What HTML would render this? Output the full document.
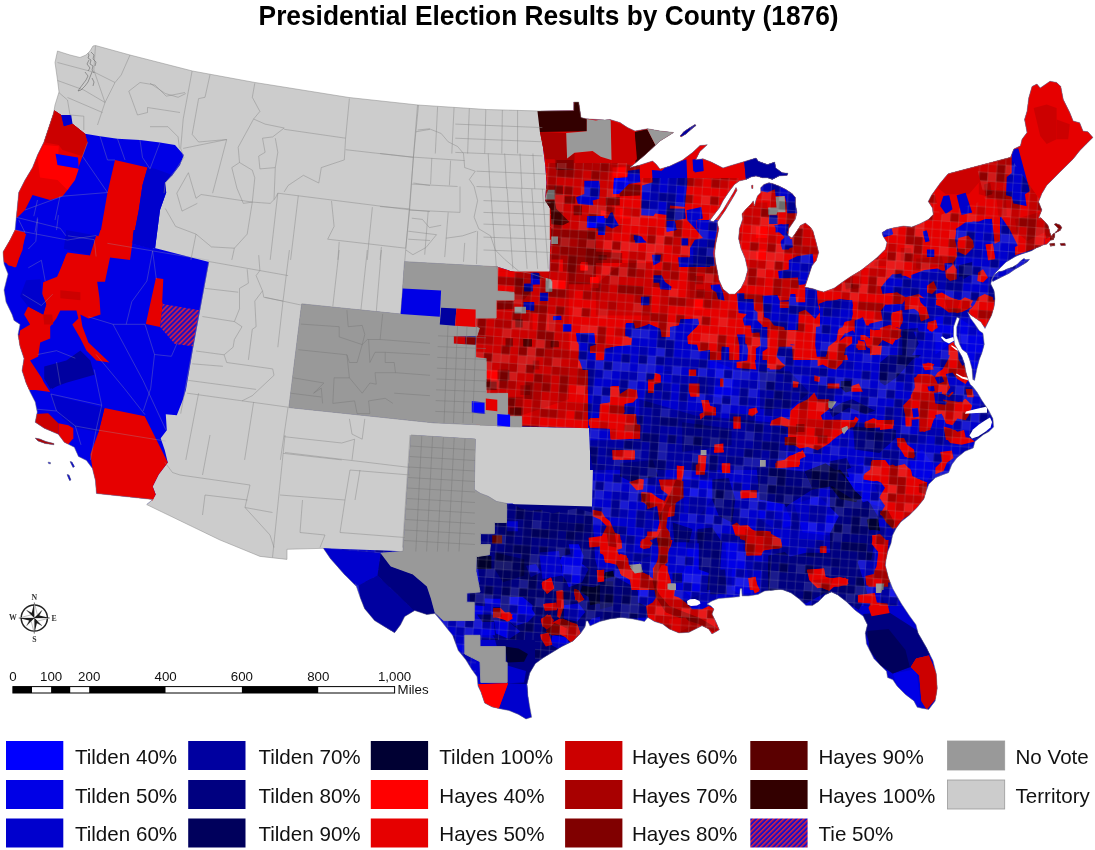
<!DOCTYPE html>
<html><head><meta charset="utf-8"><title>Presidential Election Results by County (1876)</title>
<style>
html,body{margin:0;padding:0;background:#fff;}
body{width:1095px;height:850px;overflow:hidden;position:relative;font-family:"Liberation Sans",sans-serif;}
svg{position:absolute;left:0;top:0;}
.t{font-family:"Liberation Sans",sans-serif;}
</style></head><body>
<svg width="1095" height="850" viewBox="0 0 1095 850">
<defs>
<pattern id="tie" width="3.55" height="3.55" patternUnits="userSpaceOnUse" patternTransform="rotate(-45)">
<rect width="3.55" height="3.55" fill="#1a10c8"/><rect width="3.55" height="1.5" fill="#e0203a"/></pattern>

<clipPath id="land">
<polygon points="57.5,51.0 62.0,52.5 70.0,55.0 80.0,57.5 86.0,55.0 90.0,51.0 93.0,46.0 95.5,45.5 130.0,55.0 192.5,71.0 255.0,82.5 274.0,85.5 349.0,97.5 418.0,105.0 486.5,109.5 539.0,111.0 573.7,110.5 573.7,102.0 578.7,102.0 581.0,117.5 586.0,118.7 605.0,120.0 610.0,119.5 620.0,122.5 627.5,127.5 635.0,131.0 647.5,128.7 660.0,131.0 673.7,132.5 660.0,141.0 645.0,155.0 630.0,167.5 640.0,165.0 652.5,161.0 656.0,164.0 660.0,169.0 670.0,166.0 682.5,160.0 692.5,152.5 700.0,145.5 707.3,144.8 699.9,151.4 695.8,159.7 703.0,158.8 711.4,162.0 723.0,167.9 731.0,165.4 742.7,162.0 756.0,158.0 758.4,161.3 767.4,164.6 774.8,162.0 775.7,167.9 782.3,172.8 788.0,173.2 787.2,175.3 779.0,176.0 772.4,179.4 767.4,177.8 762.5,177.8 756.0,176.0 751.0,177.0 746.0,179.4 739.4,181.0 734.5,184.4 729.5,191.0 723.0,200.8 719.7,207.4 714.7,214.0 709.8,220.6 713.5,221.8 718.5,216.0 723.5,209.0 728.0,201.5 733.5,192.5 736.0,187.5 737.2,190.0 734.0,195.8 729.5,203.3 725.0,210.8 720.5,217.3 717.2,222.3 718.8,228.8 717.2,237.0 715.5,245.3 714.7,253.6 715.5,261.8 717.2,270.0 719.0,280.0 723.0,289.0 729.0,294.0 735.0,294.0 741.0,288.0 745.0,280.0 747.7,270.0 745.2,258.5 741.0,248.6 738.6,238.7 739.4,228.8 742.7,219.0 741.9,214.0 746.0,209.0 751.0,204.0 753.4,200.8 754.5,206.0 756.0,200.0 757.5,195.9 760.8,192.6 760.8,187.7 764.0,184.4 769.0,182.7 772.4,183.5 779.0,186.0 785.6,189.3 792.0,193.4 795.4,197.5 795.4,204.0 797.0,212.4 795.4,219.0 792.0,224.0 788.8,228.8 788.0,235.4 792.0,237.9 796.3,232.0 800.4,225.5 805.3,223.0 810.3,227.0 813.0,231.0 816.2,242.6 818.7,252.5 816.2,260.7 812.0,265.7 808.8,275.5 805.5,285.4 804.7,287.0 813.0,288.7 817.9,290.4 823.7,292.0 834.4,287.9 842.6,282.0 850.8,276.4 860.7,270.6 869.0,264.0 877.2,257.4 885.4,249.2 887.0,242.6 883.0,236.0 882.0,232.7 887.0,229.4 893.7,227.8 903.6,226.0 911.8,227.0 920.0,223.7 928.3,219.5 933.2,214.6 932.4,208.0 928.3,201.4 931.5,195.2 939.7,183.7 948.0,173.8 1010.5,157.3 1013.8,149.0 1020.4,145.8 1022.0,139.2 1027.0,132.6 1024.5,119.4 1027.0,111.2 1028.7,98.0 1032.0,86.5 1036.9,84.0 1040.2,88.0 1050.0,81.2 1056.7,82.4 1060.8,86.5 1063.3,99.6 1069.9,112.8 1073.2,121.0 1079.7,122.7 1083.0,131.0 1088.0,131.8 1092.9,137.5 1086.3,144.0 1079.7,150.7 1073.2,159.0 1066.6,165.5 1060.0,172.0 1053.4,178.7 1046.8,185.3 1041.9,193.6 1038.6,201.8 1041.9,209.9 1038.6,218.0 1040.9,217.8 1044.7,221.6 1048.0,225.4 1049.4,230.1 1050.3,233.8 1051.3,236.2 1053.2,233.8 1056.9,232.2 1060.4,230.3 1061.8,227.6 1060.0,225.0 1056.0,223.4 1054.0,224.3 1056.4,226.4 1058.2,228.6 1057.4,230.4 1055.0,232.4 1054.6,236.8 1053.4,239.8 1050.3,240.3 1049.4,241.4 1046.6,244.2 1042.8,245.1 1040.0,246.5 1036.2,248.0 1031.5,250.8 1025.8,252.7 1020.2,254.5 1015.5,256.4 1010.8,259.3 1006.1,262.1 1002.3,265.8 998.5,269.6 994.8,273.4 991.9,279.0 991.0,282.8 990.8,284.0 994.0,290.6 995.0,298.8 994.0,307.0 991.6,315.3 987.5,323.5 985.0,328.5 981.0,322.0 976.0,318.6 971.0,315.3 967.7,312.0 970.7,318.5 974.4,323.4 979.4,330.8 983.0,333.3 984.3,344.4 981.9,353.0 979.4,359.2 976.9,369.0 974.6,380.4 972.8,379.5 972.0,369.0 969.5,359.2 967.0,353.0 962.0,349.3 959.6,344.4 956.7,335.7 956.7,327.0 959.6,318.5 957.0,317.2 953.5,327.0 953.5,335.7 954.7,344.4 958.4,350.6 962.0,356.7 964.6,364.0 965.8,371.5 968.3,380.2 970.7,385.0 972.3,386.0 977.2,392.3 982.0,400.5 988.7,410.4 992.9,418.6 993.7,426.9 988.7,431.8 983.2,434.8 975.0,441.4 973.3,448.0 965.0,451.3 956.8,457.9 951.9,464.5 948.6,472.7 943.7,474.4 935.4,477.7 928.8,484.3 926.4,490.8 923.9,499.0 917.3,507.3 909.0,515.5 900.8,522.0 895.9,528.7 892.6,535.3 891.0,543.5 887.7,551.8 886.0,560.0 885.4,565.4 888.6,578.0 892.8,588.7 901.3,603.5 909.8,616.2 916.0,624.7 918.2,633.2 926.7,648.0 933.0,660.7 936.2,673.4 937.3,688.2 935.2,701.0 928.8,709.4 922.5,708.4 917.2,707.3 914.0,701.0 905.5,694.6 897.0,686.0 892.8,679.8 887.5,677.6 886.5,671.3 880.0,665.0 873.8,658.6 869.5,650.0 866.4,643.8 865.3,633.2 867.4,624.7 863.2,616.2 854.7,609.9 846.2,601.4 837.8,595.0 831.4,591.9 825.0,595.0 818.7,601.4 812.4,605.6 806.0,605.6 799.6,599.3 791.2,593.0 782.7,589.8 780.0,589.4 764.7,591.0 758.0,594.4 748.3,596.0 742.0,596.0 741.8,588.5 740.2,588.5 739.6,596.5 738.4,596.8 728.5,597.7 718.6,598.5 712.0,601.0 707.0,604.0 711.0,606.0 714.0,609.0 712.0,614.0 716.0,622.0 719.4,629.8 712.0,633.9 708.7,629.0 702.0,625.7 695.5,629.0 689.0,632.3 679.0,633.0 669.2,629.0 662.6,624.0 654.4,621.5 647.8,617.4 644.5,621.5 633.0,619.0 621.4,617.4 609.9,619.0 600.0,621.5 590.0,626.0 587.8,621.0 586.2,621.0 585.0,627.0 580.6,633.4 573.0,641.0 561.8,646.6 552.4,652.3 543.0,658.0 535.4,663.6 529.8,673.0 527.0,684.3 527.9,695.6 529.8,706.9 531.7,717.2 526.0,719.0 518.5,714.4 509.0,710.6 499.7,708.7 492.0,706.9 484.6,703.0 480.8,691.8 478.0,686.0 477.0,676.7 471.4,669.0 465.8,659.8 458.2,650.4 452.6,635.3 448.9,630.7 440.8,620.6 434.8,613.6 426.8,614.6 414.7,610.6 404.7,616.6 400.6,624.7 394.6,632.7 384.6,626.7 374.5,620.6 364.5,608.6 360.5,598.5 356.4,586.5 344.4,574.4 330.3,558.4 323.3,548.3 287.0,549.3 287.0,559.4 260.0,556.4 220.0,540.0 146.7,504.6 152.7,499.5 96.4,493.5 95.4,480.5 92.4,468.4 86.4,460.4 78.4,456.4 74.3,447.3 64.3,442.3 58.3,434.3 44.2,428.2 35.2,422.2 37.2,412.0 35.2,402.0 30.1,392.0 26.0,382.7 22.0,370.6 24.0,358.6 20.0,346.5 18.0,334.5 20.0,324.4 14.0,320.4 12.0,314.4 6.0,302.0 4.0,290.0 8.0,274.0 4.0,264.0 3.0,252.0 10.0,240.0 15.0,230.0 16.0,220.0 17.5,205.0 18.7,192.5 25.0,180.0 32.5,167.5 37.5,155.0 43.7,142.5 48.7,127.5 53.7,112.5 55.0,105.0 59.0,92.0 57.5,80.0 55.0,62.5"/>
<polygon points="991.9,280.0 994.8,274.6 998.5,271.8 1003.2,270.8 1007.0,268.9 1012.7,267.0 1017.4,264.2 1021.1,260.4 1024.0,258.5 1025.8,259.7 1029.6,259.3 1027.7,261.6 1024.0,264.0 1019.3,266.8 1014.5,269.6 1008.9,273.4 1003.2,276.2 997.6,279.0 992.9,281.4"/>
<polygon points="680.0,136.0 684.0,131.5 690.0,127.5 695.0,124.5 696.0,125.5 691.0,129.5 686.0,134.0 681.0,137.0"/>
<polygon points="1049.5,243.8 1054.5,243.2 1055.0,245.6 1050.5,246.2"/>
<polygon points="1060.0,243.6 1065.0,243.2 1065.4,245.4 1061.0,245.6"/>
<polygon points="35.0,438.0 40.0,439.0 46.0,441.5 54.0,443.5 54.0,444.8 45.0,443.5 38.0,441.0"/>
<polygon points="70.0,461.5 72.0,462.0 74.5,466.5 73.0,467.5"/>
<polygon points="67.0,474.5 69.0,475.0 71.0,480.0 69.5,480.5"/>
<polygon points="48.0,462.0 50.5,462.5 50.5,464.0 48.5,463.6"/>
<polygon points="751.5,185.5 753.0,185.0 753.0,188.5 751.8,188.5"/>
</clipPath>

<pattern id="mos" width="120.4" height="120.4" patternUnits="userSpaceOnUse" patternTransform="rotate(4)"><rect x="0.0" y="0.0" width="8.6" height="8.6" fill="#000" opacity="0.15"/><rect x="0.0" y="8.6" width="8.6" height="8.6" fill="#000" opacity="0.30"/><rect x="0.0" y="25.8" width="8.6" height="8.6" fill="#000" opacity="0.30"/><rect x="0.0" y="43.0" width="8.6" height="8.6" fill="#fff" opacity="0.10"/><rect x="0.0" y="51.6" width="8.6" height="8.6" fill="#000" opacity="0.30"/><rect x="0.0" y="68.8" width="8.6" height="8.6" fill="#000" opacity="0.30"/><rect x="0.0" y="77.4" width="8.6" height="8.6" fill="#fff" opacity="0.10"/><rect x="0.0" y="86.0" width="8.6" height="8.6" fill="#000" opacity="0.30"/><rect x="0.0" y="94.6" width="8.6" height="8.6" fill="#000" opacity="0.30"/><rect x="0.0" y="103.2" width="8.6" height="8.6" fill="#fff" opacity="0.10"/><rect x="8.6" y="0.0" width="8.6" height="8.6" fill="#000" opacity="0.30"/><rect x="8.6" y="8.6" width="8.6" height="8.6" fill="#000" opacity="0.15"/><rect x="8.6" y="43.0" width="8.6" height="8.6" fill="#fff" opacity="0.10"/><rect x="8.6" y="60.2" width="8.6" height="8.6" fill="#000" opacity="0.30"/><rect x="8.6" y="77.4" width="8.6" height="8.6" fill="#000" opacity="0.15"/><rect x="8.6" y="86.0" width="8.6" height="8.6" fill="#000" opacity="0.30"/><rect x="8.6" y="94.6" width="8.6" height="8.6" fill="#000" opacity="0.30"/><rect x="8.6" y="103.2" width="8.6" height="8.6" fill="#000" opacity="0.15"/><rect x="17.2" y="0.0" width="8.6" height="8.6" fill="#000" opacity="0.15"/><rect x="17.2" y="25.8" width="8.6" height="8.6" fill="#fff" opacity="0.10"/><rect x="17.2" y="43.0" width="8.6" height="8.6" fill="#000" opacity="0.30"/><rect x="17.2" y="51.6" width="8.6" height="8.6" fill="#000" opacity="0.30"/><rect x="17.2" y="60.2" width="8.6" height="8.6" fill="#000" opacity="0.15"/><rect x="17.2" y="77.4" width="8.6" height="8.6" fill="#fff" opacity="0.10"/><rect x="17.2" y="86.0" width="8.6" height="8.6" fill="#000" opacity="0.15"/><rect x="17.2" y="103.2" width="8.6" height="8.6" fill="#fff" opacity="0.10"/><rect x="17.2" y="111.8" width="8.6" height="8.6" fill="#000" opacity="0.15"/><rect x="25.8" y="17.2" width="8.6" height="8.6" fill="#000" opacity="0.15"/><rect x="25.8" y="60.2" width="8.6" height="8.6" fill="#000" opacity="0.15"/><rect x="25.8" y="77.4" width="8.6" height="8.6" fill="#000" opacity="0.30"/><rect x="25.8" y="86.0" width="8.6" height="8.6" fill="#fff" opacity="0.10"/><rect x="25.8" y="103.2" width="8.6" height="8.6" fill="#000" opacity="0.30"/><rect x="25.8" y="111.8" width="8.6" height="8.6" fill="#fff" opacity="0.10"/><rect x="34.4" y="0.0" width="8.6" height="8.6" fill="#000" opacity="0.30"/><rect x="34.4" y="43.0" width="8.6" height="8.6" fill="#000" opacity="0.15"/><rect x="34.4" y="77.4" width="8.6" height="8.6" fill="#fff" opacity="0.10"/><rect x="34.4" y="103.2" width="8.6" height="8.6" fill="#fff" opacity="0.10"/><rect x="43.0" y="0.0" width="8.6" height="8.6" fill="#000" opacity="0.30"/><rect x="43.0" y="43.0" width="8.6" height="8.6" fill="#000" opacity="0.15"/><rect x="43.0" y="51.6" width="8.6" height="8.6" fill="#fff" opacity="0.10"/><rect x="43.0" y="68.8" width="8.6" height="8.6" fill="#000" opacity="0.30"/><rect x="43.0" y="77.4" width="8.6" height="8.6" fill="#fff" opacity="0.10"/><rect x="43.0" y="86.0" width="8.6" height="8.6" fill="#000" opacity="0.15"/><rect x="43.0" y="94.6" width="8.6" height="8.6" fill="#000" opacity="0.30"/><rect x="43.0" y="103.2" width="8.6" height="8.6" fill="#000" opacity="0.30"/><rect x="51.6" y="0.0" width="8.6" height="8.6" fill="#000" opacity="0.30"/><rect x="51.6" y="8.6" width="8.6" height="8.6" fill="#000" opacity="0.15"/><rect x="51.6" y="17.2" width="8.6" height="8.6" fill="#fff" opacity="0.10"/><rect x="51.6" y="34.4" width="8.6" height="8.6" fill="#000" opacity="0.30"/><rect x="51.6" y="43.0" width="8.6" height="8.6" fill="#fff" opacity="0.10"/><rect x="51.6" y="86.0" width="8.6" height="8.6" fill="#000" opacity="0.15"/><rect x="51.6" y="94.6" width="8.6" height="8.6" fill="#fff" opacity="0.10"/><rect x="51.6" y="103.2" width="8.6" height="8.6" fill="#000" opacity="0.15"/><rect x="60.2" y="8.6" width="8.6" height="8.6" fill="#000" opacity="0.30"/><rect x="60.2" y="17.2" width="8.6" height="8.6" fill="#000" opacity="0.15"/><rect x="60.2" y="25.8" width="8.6" height="8.6" fill="#000" opacity="0.15"/><rect x="60.2" y="34.4" width="8.6" height="8.6" fill="#000" opacity="0.15"/><rect x="60.2" y="43.0" width="8.6" height="8.6" fill="#fff" opacity="0.10"/><rect x="60.2" y="60.2" width="8.6" height="8.6" fill="#000" opacity="0.15"/><rect x="60.2" y="68.8" width="8.6" height="8.6" fill="#000" opacity="0.30"/><rect x="60.2" y="77.4" width="8.6" height="8.6" fill="#fff" opacity="0.10"/><rect x="60.2" y="86.0" width="8.6" height="8.6" fill="#fff" opacity="0.10"/><rect x="68.8" y="25.8" width="8.6" height="8.6" fill="#000" opacity="0.30"/><rect x="68.8" y="68.8" width="8.6" height="8.6" fill="#fff" opacity="0.10"/><rect x="68.8" y="77.4" width="8.6" height="8.6" fill="#fff" opacity="0.10"/><rect x="68.8" y="86.0" width="8.6" height="8.6" fill="#000" opacity="0.30"/><rect x="68.8" y="103.2" width="8.6" height="8.6" fill="#000" opacity="0.30"/><rect x="68.8" y="111.8" width="8.6" height="8.6" fill="#000" opacity="0.30"/><rect x="77.4" y="0.0" width="8.6" height="8.6" fill="#000" opacity="0.15"/><rect x="77.4" y="8.6" width="8.6" height="8.6" fill="#000" opacity="0.15"/><rect x="77.4" y="17.2" width="8.6" height="8.6" fill="#000" opacity="0.15"/><rect x="77.4" y="25.8" width="8.6" height="8.6" fill="#000" opacity="0.30"/><rect x="77.4" y="34.4" width="8.6" height="8.6" fill="#000" opacity="0.30"/><rect x="77.4" y="43.0" width="8.6" height="8.6" fill="#000" opacity="0.30"/><rect x="77.4" y="51.6" width="8.6" height="8.6" fill="#000" opacity="0.30"/><rect x="77.4" y="60.2" width="8.6" height="8.6" fill="#fff" opacity="0.10"/><rect x="77.4" y="68.8" width="8.6" height="8.6" fill="#000" opacity="0.30"/><rect x="77.4" y="94.6" width="8.6" height="8.6" fill="#000" opacity="0.30"/><rect x="77.4" y="103.2" width="8.6" height="8.6" fill="#000" opacity="0.15"/><rect x="77.4" y="111.8" width="8.6" height="8.6" fill="#000" opacity="0.15"/><rect x="86.0" y="0.0" width="8.6" height="8.6" fill="#fff" opacity="0.10"/><rect x="86.0" y="8.6" width="8.6" height="8.6" fill="#000" opacity="0.30"/><rect x="86.0" y="34.4" width="8.6" height="8.6" fill="#fff" opacity="0.10"/><rect x="86.0" y="43.0" width="8.6" height="8.6" fill="#fff" opacity="0.10"/><rect x="86.0" y="51.6" width="8.6" height="8.6" fill="#000" opacity="0.30"/><rect x="86.0" y="60.2" width="8.6" height="8.6" fill="#000" opacity="0.30"/><rect x="86.0" y="68.8" width="8.6" height="8.6" fill="#000" opacity="0.15"/><rect x="86.0" y="77.4" width="8.6" height="8.6" fill="#000" opacity="0.15"/><rect x="86.0" y="94.6" width="8.6" height="8.6" fill="#000" opacity="0.15"/><rect x="86.0" y="103.2" width="8.6" height="8.6" fill="#000" opacity="0.30"/><rect x="94.6" y="8.6" width="8.6" height="8.6" fill="#000" opacity="0.30"/><rect x="94.6" y="25.8" width="8.6" height="8.6" fill="#000" opacity="0.30"/><rect x="94.6" y="68.8" width="8.6" height="8.6" fill="#000" opacity="0.15"/><rect x="94.6" y="77.4" width="8.6" height="8.6" fill="#fff" opacity="0.10"/><rect x="94.6" y="86.0" width="8.6" height="8.6" fill="#000" opacity="0.15"/><rect x="103.2" y="0.0" width="8.6" height="8.6" fill="#000" opacity="0.15"/><rect x="103.2" y="8.6" width="8.6" height="8.6" fill="#000" opacity="0.15"/><rect x="103.2" y="68.8" width="8.6" height="8.6" fill="#000" opacity="0.15"/><rect x="103.2" y="86.0" width="8.6" height="8.6" fill="#000" opacity="0.15"/><rect x="103.2" y="94.6" width="8.6" height="8.6" fill="#000" opacity="0.30"/><rect x="103.2" y="103.2" width="8.6" height="8.6" fill="#000" opacity="0.30"/><rect x="103.2" y="111.8" width="8.6" height="8.6" fill="#000" opacity="0.15"/><rect x="111.8" y="0.0" width="8.6" height="8.6" fill="#000" opacity="0.15"/><rect x="111.8" y="25.8" width="8.6" height="8.6" fill="#fff" opacity="0.10"/><rect x="111.8" y="60.2" width="8.6" height="8.6" fill="#fff" opacity="0.10"/><rect x="111.8" y="68.8" width="8.6" height="8.6" fill="#000" opacity="0.15"/><rect x="111.8" y="77.4" width="8.6" height="8.6" fill="#000" opacity="0.15"/><rect x="111.8" y="86.0" width="8.6" height="8.6" fill="#000" opacity="0.15"/><rect x="111.8" y="94.6" width="8.6" height="8.6" fill="#000" opacity="0.15"/><path d="M0.0 0V120.4M0 0.0H120.4M8.6 0V120.4M0 8.6H120.4M17.2 0V120.4M0 17.2H120.4M25.8 0V120.4M0 25.8H120.4M34.4 0V120.4M0 34.4H120.4M43.0 0V120.4M0 43.0H120.4M51.6 0V120.4M0 51.6H120.4M60.2 0V120.4M0 60.2H120.4M68.8 0V120.4M0 68.8H120.4M77.4 0V120.4M0 77.4H120.4M86.0 0V120.4M0 86.0H120.4M94.6 0V120.4M0 94.6H120.4M103.2 0V120.4M0 103.2H120.4M111.8 0V120.4M0 111.8H120.4" stroke="#aaa" stroke-opacity="0.33" stroke-width="0.6" fill="none"/></pattern>
</defs>
<rect width="1095" height="850" fill="#fff"/>
<g clip-path="url(#land)">
<rect x="0" y="30" width="1095" height="700" fill="#cccccc"/>
<polygon points="539.0,111.2 540.2,130.0 542.7,145.0 545.2,165.0 546.5,182.5 545.2,200.0 551.2,210.0 551.2,235.0 550.0,250.0 549.8,270.7 547.2,281.0 538.3,272.7 525.5,272.0 517.8,273.2 497.3,266.8 404.5,261.7 402.7,288.6 400.7,314.0 301.7,304.0 289.0,407.5 433.4,422.8 521.6,426.7 588.9,428.0 589.9,450.2 592.9,470.3 591.9,512.5 576.8,508.5 564.8,510.5 552.7,513.5 540.6,509.5 532.6,510.5 520.6,508.5 512.5,503.4 506.5,503.4 496.4,501.4 488.4,496.4 480.4,493.4 474.3,489.4 475.3,439.1 411.0,435.1 407.7,480.0 403.0,551.3 323.3,548.3 300.0,600.0 420.0,730.0 1095.0,730.0 1095.0,40.0 539.0,40.0" fill="#0000cd"/>
<polygon points="53.8,110.0 61.2,115.0 72.5,123.8 85.0,133.8 100.0,136.2 117.5,138.8 140.0,140.0 160.0,142.5 175.0,145.0 183.8,155.0 180.0,165.0 172.5,175.0 165.0,182.5 166.2,192.5 160.0,210.0 155.0,248.8 15.0,218.8 0.0,218.8 0.0,110.0" fill="#0000e6"/>
<polygon points="53.8,110.0 61.2,115.0 63.8,126.2 72.5,123.8 85.0,133.8 87.5,142.5 82.5,156.2 77.5,170.0 72.5,180.0 67.5,190.0 62.5,196.2 50.0,200.0 32.5,195.0 25.0,210.0 16.2,218.8 0.0,220.0 0.0,110.0" fill="#e60000"/>
<polygon points="53.8,110.0 61.2,115.0 63.8,126.2 72.5,123.8 85.0,133.8 87.5,142.5 82.5,156.2 62.5,150.0 58.8,145.0 45.0,142.5 43.8,141.2" fill="#cc0000"/>
<polygon points="43.8,145.0 58.8,146.2 57.5,165.0 78.8,168.8 75.0,180.0 67.5,190.0 57.5,180.0 40.0,177.5 37.5,157.5" fill="#ff0000"/>
<polygon points="55.5,153.8 78.0,157.5 78.8,168.8 57.5,165.0" fill="#0000ff"/>
<polygon points="61.2,115.0 71.2,115.0 72.5,123.8 63.8,126.2" fill="#0000cd"/>
<polygon points="115.0,160.0 147.5,167.5 142.5,185.0 138.8,210.0 132.5,242.5 100.0,235.5 107.5,192.5" fill="#e60000"/>
<polygon points="147.5,167.5 155.0,168.8 172.5,175.0 165.0,182.5 166.2,192.5 160.0,210.0 155.0,248.8 132.5,242.5 138.8,210.0 142.5,185.0" fill="#0000cd"/>
<polygon points="17.0,217.5 155.0,248.7 154.7,248.0 209.0,262.0 193.0,348.5 185.9,390.0 182.8,400.0 176.8,415.2 165.8,414.2 166.8,430.2 160.7,438.3 164.8,450.3 167.8,462.4 158.7,474.4 152.7,486.5 155.7,494.5 152.7,499.5 146.7,504.6 90.0,500.0 0.0,440.0 0.0,217.0" fill="#0000e6"/>
<polygon points="16.2,230.0 25.0,232.5 22.5,250.0 15.0,267.5 0.0,260.0 0.0,230.0" fill="#e60000"/>
<polygon points="66.2,230.0 96.2,235.5 91.2,255.5 63.8,248.8" fill="#0000cd"/>
<polygon points="96.2,235.5 110.0,240.0 132.5,242.5 130.0,260.0 110.0,257.5 105.0,281.8 55.0,281.8 67.5,252.5 90.0,255.5" fill="#e60000"/>
<polygon points="132.6,230.0 156.7,230.0 152.7,249.1 132.6,244.1" fill="#0000cd"/>
<polygon points="14.1,230.0 26.1,234.0 22.1,248.1 16.1,267.2 8.0,265.2 0.0,252.1 0.0,230.0" fill="#e60000"/>
<polygon points="100.5,230.0 133.6,230.0 131.6,243.1 108.5,241.1 104.5,250.1 96.4,276.2 99.5,298.3 100.5,314.4 88.4,318.4 80.4,314.4 82.4,326.4 88.4,342.5 109.5,362.6 96.4,360.6 86.4,350.6 80.4,338.5 72.3,324.4 78.4,318.4 76.4,310.4 60.3,310.4 56.3,318.4 50.2,326.4 50.2,338.5 40.2,342.5 38.2,356.6 26.1,358.6 18.1,342.5 20.1,330.5 30.1,324.4 24.1,314.4 28.1,306.4 43.2,314.4 46.2,304.3 42.2,294.3 43.2,282.2 58.3,276.2 66.3,254.1 90.4,256.1 94.4,248.1" fill="#e60000"/>
<polygon points="60.3,290.3 80.4,292.3 80.4,300.3 60.3,298.3" fill="#cc0000"/>
<polygon points="43.2,314.4 52.2,314.4 53.2,324.4 44.2,324.4" fill="#cc0000"/>
<polygon points="18.1,334.5 26.1,342.5 38.2,356.6 30.1,360.6 42.2,378.7 46.2,389.9 20.1,389.9 12.1,358.6 12.1,334.5" fill="#e60000"/>
<polygon points="44.2,366.6 66.3,360.6 80.4,350.6 90.4,360.6 94.4,374.7 80.4,378.7 66.3,382.7 50.2,388.7 44.2,378.7" fill="#0000a0"/>
<polygon points="26.1,280.2 40.2,279.2 42.2,294.3 46.2,304.3 43.2,314.4 28.1,306.4 20.1,296.3" fill="#0000cd"/>
<polygon points="155.9,277.9 163.3,279.0 162.2,301.7 162.8,304.0 160.1,327.1 145.8,324.0" fill="#e60000"/>
<polygon points="162.8,303.9 199.3,310.2 192.9,346.2 174.9,344.1 160.1,327.1" fill="url(#tie)"/>
<polygon points="104.5,408.1 144.7,416.2 167.8,462.4 158.7,474.4 152.7,486.5 155.7,494.5 152.7,500.6 96.4,494.5 94.4,480.5 92.4,468.4 90.4,454.3 98.5,432.2" fill="#e60000"/>
<polygon points="58.3,423.2 68.3,425.2 73.3,428.2 73.3,438.3 68.3,444.3 60.3,444.3 58.3,434.2" fill="#e60000"/>
<polygon points="32.1,414.2 48.2,413.2 58.3,423.2 58.3,434.2 44.2,430.2 32.1,424.2" fill="#cc0000"/>
<polygon points="51.2,395.1 104.5,408.1 98.5,432.2 73.3,427.2 62.3,418.2 54.2,406.1" fill="#0000cd"/>
<polygon points="20.1,380.0 42.2,380.0 50.2,392.1 28.1,389.0 22.1,386.0" fill="#e60000"/>
<polygon points="46.2,380.0 66.3,380.0 52.2,389.0" fill="#0000a0"/>
<polygon points="30.0,435.0 56.0,435.0 56.0,447.0 30.0,447.0" fill="#a80000"/>
<polygon points="66.0,458.0 76.0,458.0 76.0,482.0 66.0,482.0" fill="#0000cd"/>
<polygon points="650.1,427.2 662.5,427.2 662.5,438.7 682.2,438.7 682.2,451.9 667.4,452.7 659.2,445.3 650.1,437.0" fill="#00005c"/>
<polygon points="634.5,354.7 646.0,354.7 646.0,362.9 634.5,362.9" fill="#000080"/>
<polygon points="639.4,399.2 695.4,415.6 770.0,422.2 770.0,470.0 590.0,470.0 590.0,440.3 639.4,440.3" fill="#0000a0"/>
<polygon points="682.2,422.2 731.6,428.8 731.6,445.3 682.2,451.9" fill="#000080"/>
<polygon points="662.5,343.2 687.2,339.9 688.8,367.9 664.1,371.2" fill="#0000e6"/>
<polygon points="705.3,358.0 734.9,369.5 731.6,399.2 708.6,395.9" fill="#0000e6"/>
<polygon points="840.7,381.1 850.6,381.1 851.4,390.9 845.6,392.6 840.7,387.6" fill="#00005c"/>
<polygon points="903.3,339.9 914.8,338.2 923.0,351.4 918.1,358.0 908.2,353.1" fill="#000080"/>
<polygon points="829.2,410.7 842.3,402.5 852.2,399.2 875.3,410.7 865.4,414.0 848.9,407.4 832.5,417.3" fill="#000080"/>
<polygon points="760.0,422.2 769.9,425.5 786.3,428.8 786.3,458.5 760.0,458.5" fill="#0000a0"/>
<polygon points="760.0,371.2 789.6,371.2 809.4,392.6 789.6,409.0 760.0,409.0" fill="#0000a0"/>
<polygon points="901.4,329.6 917.9,328.0 922.8,354.3 912.9,359.3 896.5,377.4 884.9,385.6 880.0,382.3 880.0,362.6 889.9,354.3 899.8,342.8" fill="#000080"/>
<polygon points="906.3,332.9 916.2,332.9 917.9,352.7 911.3,354.3" fill="#00005c"/>
<polygon points="926.1,319.8 955.8,313.2 952.5,341.2 936.0,354.3 922.8,349.4" fill="#0000e6"/>
<polygon points="959.0,318.1 982.1,332.9 983.8,347.8 975.5,370.8 962.3,349.4" fill="#0000e6"/>
<polygon points="942.6,398.8 949.2,397.2 952.5,402.1 945.9,405.4" fill="#0000e6"/>
<polygon points="830.0,461.2 846.5,457.9 859.6,485.9 879.4,518.8 871.2,560.0 830.0,560.0" fill="#000080"/>
<polygon points="830.0,472.7 839.9,469.4 859.6,492.5 856.3,502.3 839.9,499.0 830.0,485.9" fill="#000033"/>
<polygon points="867.9,518.8 877.8,518.8 879.4,528.7 869.5,530.3" fill="#000033"/>
<polygon points="834.9,545.2 848.1,545.2 848.1,556.7 834.9,556.7" fill="#000033"/>
<polygon points="846.5,469.4 862.9,462.8 872.8,479.3 879.4,497.4 862.9,502.3 851.4,482.6" fill="#0000e6"/>
<polygon points="909.0,457.9 922.2,449.6 935.4,467.8 927.2,480.9 912.3,474.3" fill="#0000e6"/>
<polygon points="853.1,426.6 895.9,429.9 895.9,438.1 879.4,452.9 854.7,449.6" fill="#000080"/>
<polygon points="804.2,471.4 825.6,463.2 842.1,474.7 861.9,497.8 855.3,501.1 832.2,486.2 812.5,489.5" fill="#00005c"/>
<polygon points="835.5,543.9 848.7,543.9 850.3,555.4 837.2,557.0" fill="#000033"/>
<polygon points="866.8,519.2 878.3,522.5 880.0,530.7 868.5,529.0" fill="#000033"/>
<polygon points="768.0,563.6 779.5,562.0 781.2,575.2 787.8,580.1 786.1,588.3 772.9,586.7 768.0,575.2" fill="#00005c"/>
<polygon points="756.5,466.5 804.2,471.4 812.5,489.5 789.4,504.3 772.9,519.2 759.8,499.4" fill="#000080"/>
<polygon points="832.2,519.2 865.2,515.9 871.7,542.2 855.3,565.3 832.2,565.3" fill="#000080"/>
<polygon points="794.3,504.3 819.0,496.1 838.8,515.9 828.9,535.6 802.6,532.3" fill="#0000e6"/>
<polygon points="845.4,476.3 865.2,481.3 876.7,494.5 883.3,507.6 871.7,504.3 855.3,491.2" fill="#0000e6"/>
<polygon points="892.8,673.4 916.1,669.2 920.4,700.9 918.2,707.3 905.5,694.6 897.1,686.1" fill="#0000e6"/>
<polygon points="770.0,561.2 806.0,552.7 854.7,552.7 867.4,592.9 858.9,609.9 837.8,597.2 825.1,592.9 806.0,603.5 770.0,590.8" fill="#000080"/>
<polygon points="863.2,614.1 888.6,612.0 918.2,631.1 930.9,654.4 916.1,658.6 910.8,667.1 892.8,673.4 880.1,664.9 865.3,633.2" fill="#000080"/>
<polygon points="867.4,631.1 888.6,628.9 905.5,650.1 909.8,667.1 892.8,673.4 880.1,664.9 869.5,650.1" fill="#00005c"/>
<polygon points="880.1,588.7 892.8,588.7 897.1,603.5 884.4,603.5" fill="#0000e6"/>
<polygon points="697.4,529.0 712.2,527.4 722.1,542.2 718.8,590.0 697.4,590.0" fill="#000080"/>
<polygon points="712.2,479.6 728.7,478.0 735.3,499.4 732.0,522.5 718.8,515.9 712.2,499.4" fill="#000080"/>
<polygon points="768.2,555.4 784.7,552.1 800.0,565.3 800.0,590.0 768.2,590.0" fill="#000080"/>
<polygon points="620.0,463.2 652.9,459.9 657.9,476.3 629.9,481.3 620.0,476.3" fill="#000080"/>
<polygon points="672.7,522.5 692.5,529.0 689.2,542.2 674.3,542.2" fill="#000080"/>
<polygon points="682.6,476.3 712.2,478.0 712.2,499.4 699.0,515.9 684.2,512.6" fill="#0000e6"/>
<polygon points="758.3,499.4 784.7,504.3 792.9,525.8 774.8,529.0 760.0,519.2" fill="#0000e6"/>
<polygon points="725.4,542.2 741.9,538.9 745.2,565.3 727.0,568.6" fill="#0000e6"/>
<polygon points="476.6,503.2 591.9,506.5 595.2,559.2 601.7,583.9 614.9,588.8 636.3,588.8 636.3,608.6 591.9,618.5 535.9,687.6 511.2,704.1 494.7,638.2 470.0,605.3 470.0,582.2 479.9,582.2 476.6,555.9 491.4,544.3 479.9,544.3 479.9,532.8 494.7,522.9 506.2,519.6 507.1,503.2" fill="#000080"/>
<polygon points="507.1,521.3 517.8,521.3 517.8,531.2 507.1,531.2" fill="#0000cd"/>
<polygon points="568.8,544.3 578.7,544.3 583.6,555.9 582.0,564.1 588.6,569.0 582.0,582.2 568.8,587.2 565.5,578.9 567.2,569.0 558.9,562.5 562.2,555.9 570.5,554.2" fill="#0000e6"/>
<polygon points="526.0,565.8 535.9,564.1 540.8,572.3 530.9,577.3" fill="#0000cd"/>
<polygon points="509.5,597.0 522.7,597.0 532.6,605.3 530.9,615.2 519.4,620.1 509.5,611.9" fill="#0000e6"/>
<polygon points="484.8,598.7 500.5,598.7 500.5,606.9 484.8,606.9" fill="#0000e6"/>
<polygon points="563.9,605.3 578.7,603.6 585.3,611.9 577.0,621.7 563.9,618.5" fill="#0000e6"/>
<polygon points="641.3,559.2 650.0,555.9 650.0,572.3 642.9,569.0" fill="#0000e6"/>
<polygon points="605.0,572.3 613.3,570.7 614.9,582.2 613.3,603.6 605.0,605.3 598.5,603.6 590.2,605.3 588.6,597.0 580.3,592.1 582.0,585.5 593.5,587.2 601.7,583.9" fill="#000033"/>
<polygon points="476.6,555.9 491.4,555.9 491.4,569.0 476.6,569.0" fill="#000033"/>
<polygon points="494.7,552.6 524.3,559.2 524.3,575.6 502.9,582.2 494.7,569.0" fill="#00005c"/>
<polygon points="539.2,552.6 558.9,550.9 562.2,575.6 542.5,578.9" fill="#0000cd"/>
<polygon points="614.9,499.9 650.0,509.8 650.0,537.8 618.2,531.2" fill="#0000cd"/>
<polygon points="603.3,579.5 614.8,576.2 635.4,587.8 649.4,609.2 647.8,617.4 609.9,619.0 600.0,621.5 600.0,589.4" fill="#000080"/>
<polygon points="600.0,581.2 613.2,581.2 613.2,605.9 600.0,609.2" fill="#00005c"/>
<polygon points="641.2,559.8 654.3,561.4 652.7,572.9 642.8,572.9" fill="#0000e6"/>
<polygon points="637.9,587.8 654.3,587.8 654.3,602.6 646.1,605.9 637.9,602.6" fill="#0000e6"/>
<polygon points="672.5,572.9 682.3,572.9 682.3,582.8 672.5,582.8" fill="#000080"/>
<polygon points="698.8,543.3 708.7,543.3 708.7,558.1 698.8,558.1" fill="#000080"/>
<polygon points="708.7,569.6 725.2,569.6 726.8,594.3 710.3,594.3" fill="#000080"/>
<polygon points="687.3,543.3 698.8,543.3 698.8,569.6 708.7,572.9 707.0,592.7 692.2,597.6 682.3,589.4 682.3,572.9 687.3,564.7" fill="#0000e6"/>
<polygon points="735.0,549.9 744.9,556.5 748.2,577.9 751.5,592.7 740.0,594.3 731.7,589.4 731.7,572.9" fill="#0000e6"/>
<polygon points="768.0,561.4 780.0,561.4 780.0,587.8 771.3,586.1" fill="#000080"/>
<polygon points="484.6,598.6 499.7,599.5 500.6,607.1 485.5,607.1" fill="#0000e6"/>
<polygon points="474.2,605.2 493.1,607.1 494.0,614.6 475.2,614.6" fill="#0000e6"/>
<polygon points="511.0,597.7 527.9,603.3 535.4,614.6 527.9,622.1 514.7,625.9 505.3,618.4 512.8,610.8" fill="#0000e6"/>
<polygon points="480.8,622.1 494.0,622.1 495.0,635.3 480.8,635.3" fill="#0000e6"/>
<polygon points="452.6,634.4 464.8,635.3 464.8,654.1 458.2,648.5" fill="#0000e6"/>
<polygon points="494.0,620.3 509.1,622.1 520.4,631.5 509.1,639.1 495.9,633.4" fill="#0000e6"/>
<polygon points="552.4,635.3 565.6,637.2 569.3,642.8 558.0,648.5 550.5,644.7" fill="#0000e6"/>
<polygon points="507.2,665.4 526.0,671.1 524.1,682.4 508.1,683.3" fill="#0000cd"/>
<polygon points="505.3,646.6 518.5,648.5 527.9,654.1 524.1,661.7 507.2,662.6" fill="#000033"/>
<polygon points="561.8,560.0 576.9,560.0 580.6,578.8 569.3,584.5 561.8,575.1" fill="#0000e6"/>
<polygon points="498.7,708.7 508.1,683.3 527.9,684.3 529.8,717.2 526.0,719.1 518.5,714.4 509.1,710.6" fill="#0000cd"/>
<polygon points="539.0,111.2 540.2,130.0 542.7,145.0 545.2,165.0 546.5,182.5 545.2,200.0 551.2,210.0 551.2,235.0 550.0,250.0 549.8,270.7 547.2,281.0 538.3,272.7 525.5,272.0 517.8,273.2 497.3,266.8 476.0,266.0 476.0,424.8 588.0,428.2 588.0,368.0 578.8,359.6 578.8,344.8 576.3,333.2 594.0,333.0 595.0,344.0 604.0,345.0 604.0,351.0 612.0,347.0 628.0,345.0 625.6,337.0 626.0,323.0 634.0,323.0 634.6,329.0 645.0,327.0 648.6,324.0 660.0,329.0 662.0,337.0 670.0,337.0 670.0,327.0 679.0,325.6 680.7,319.0 698.0,319.0 699.0,324.0 688.0,335.0 688.0,342.0 698.0,344.0 698.0,350.0 710.0,345.0 712.0,360.0 870.0,360.0 872.0,330.0 884.0,320.0 890.0,322.0 905.0,300.0 915.0,296.0 930.0,300.0 948.0,296.0 952.0,285.0 960.0,262.0 985.0,262.0 990.0,250.0 985.0,230.0 1000.0,215.0 1010.0,230.0 1020.0,250.0 1060.0,250.0 1095.0,250.0 1095.0,60.0 539.0,60.0" fill="#e60000"/>
<polygon points="709.8,335.3 721.3,335.3 721.3,360.0 709.8,360.0" fill="#e60000"/>
<polygon points="729.5,335.3 737.8,335.3 739.4,360.0 729.5,360.0" fill="#e60000"/>
<polygon points="749.3,333.6 755.9,333.6 755.9,360.0 749.3,360.0" fill="#e60000"/>
<polygon points="762.5,333.6 775.6,333.6 775.6,360.0 762.5,360.0" fill="#e60000"/>
<polygon points="792.9,333.6 816.8,333.6 816.8,360.0 792.9,360.0" fill="#e60000"/>
<polygon points="825.9,333.6 848.1,335.3 848.1,360.0 825.9,360.0" fill="#e60000"/>
<polygon points="834.9,328.7 854.7,320.5 854.7,335.3 844.8,345.2 833.3,341.9" fill="#e60000"/>
<polygon points="820.0,290.8 885.9,280.9 882.6,294.0 885.9,303.9 880.9,310.5 882.6,320.4 869.4,323.7 867.8,328.6 894.1,328.6 897.4,336.9 892.5,345.1 882.6,340.2 877.6,346.7 876.0,355.0 869.4,355.0 864.5,340.2 857.9,336.9 852.9,330.3 844.7,333.6 839.8,340.2 841.4,355.0 826.6,355.0 828.2,346.7 836.5,340.2 838.1,330.3 844.7,322.0 851.3,320.4 852.9,313.8 851.3,300.6 839.8,299.0 820.0,303.9" fill="#e60000"/>
<polygon points="537.4,110.7 573.6,110.7 574.5,100.0 579.4,100.0 581.9,116.5 586.8,118.9 586.8,131.3 539.9,132.1" fill="#330000"/>
<polygon points="634.6,132.1 647.3,129.3 656.8,147.8 635.4,167.5 635.4,149.4" fill="#330000"/>
<polygon points="610.7,120.6 617.3,123.1 625.5,126.3 634.6,132.1 637.0,159.3 628.8,165.9 612.3,167.5 611.5,160.1" fill="#cc0000"/>
<polygon points="539.9,132.1 566.2,132.9 567.1,158.5 574.5,152.7 592.6,151.1 600.8,156.8 611.5,160.1 612.3,240.0 549.8,240.0 549.8,198.8 545.6,159.3" fill="#cc0000"/>
<polygon points="539.9,132.1 566.2,132.9 567.1,158.5 574.5,152.7 574.5,169.2 555.5,169.2 554.7,159.3 545.6,159.3" fill="#a80000"/>
<polygon points="551.4,230.0 595.9,230.0 595.9,251.4 622.2,253.1 622.2,262.9 595.9,262.9 595.9,284.3 562.9,284.3 562.9,259.6 551.4,259.6" fill="#a80000"/>
<polygon points="622.2,262.9 651.9,262.9 651.9,315.6 595.9,315.6 595.9,284.3" fill="#cc0000"/>
<polygon points="497.2,271.4 568.8,271.4 568.8,390.0 486.5,390.0 486.5,357.0 476.6,357.0 476.6,319.2 497.2,317.5" fill="#cc0000"/>
<polygon points="514.5,273.1 530.9,273.1 530.9,291.2 524.3,299.4 514.5,299.4" fill="#a80000"/>
<polygon points="497.2,271.4 514.5,271.4 514.5,291.2 497.2,291.2" fill="#e60000"/>
<polygon points="532.6,312.6 549.0,312.6 549.0,335.6 532.6,335.6" fill="#e60000"/>
<polygon points="486.6,330.0 562.3,330.0 568.9,362.9 568.9,399.2 521.2,415.6 508.0,415.6 508.0,393.4 497.3,393.4 486.6,399.2" fill="#cc0000"/>
<polygon points="690.0,267.8 716.3,267.8 716.3,299.0 690.0,299.0" fill="#cc0000"/>
<polygon points="795.4,229.9 811.9,224.9 818.5,252.9 812.7,253.8 797.0,256.2 792.9,247.2 792.1,238.9" fill="#cc0000"/>
<polygon points="937.6,187.8 950.8,172.1 1010.1,156.5 1010.1,172.9 978.8,182.8 968.9,194.3 955.8,194.3 945.9,194.3" fill="#cc0000"/>
<polygon points="978.8,182.8 1005.2,172.9 1005.2,186.1 995.3,189.4 992.0,194.3 985.4,196.0 978.8,194.3" fill="#cc0000"/>
<polygon points="1015.0,219.0 1044.7,210.8 1051.3,232.2 1028.2,242.1 1016.7,232.2" fill="#cc0000"/>
<polygon points="1033.6,107.9 1046.7,104.6 1056.6,107.9 1056.6,139.2 1046.7,144.1 1040.2,135.9" fill="#cc0000"/>
<polygon points="1050.0,222.0 1066.0,222.0 1066.0,247.0 1050.0,247.0" fill="#800000"/>
<polygon points="741.1,209.0 752.6,202.5 767.4,202.5 767.4,215.6 742.7,217.3" fill="#cc0000"/>
<polygon points="795.4,227.2 805.3,223.0 813.5,235.4 818.5,255.2 811.9,245.3 795.4,243.6" fill="#cc0000"/>
<polygon points="584.3,180.7 599.2,180.7 600.0,187.3 599.2,198.8 592.6,200.5 593.4,205.4 577.8,203.8 576.1,197.2 584.3,193.9" fill="#0000cd"/>
<polygon points="614.0,178.2 627.2,177.4 628.0,170.8 639.5,169.2 640.3,182.3 628.8,184.0 618.9,193.9 613.2,193.9" fill="#0000cd"/>
<polygon points="587.6,216.1 604.1,216.1 612.3,212.0 614.8,218.6 618.9,225.2 612.3,228.5 605.8,225.2 604.9,235.0 598.3,235.0 598.3,228.5 586.8,227.6" fill="#0000cd"/>
<polygon points="633.8,235.0 642.0,236.7 643.6,240.0 633.8,240.0" fill="#0000cd"/>
<polygon points="651.9,170.0 661.7,170.8 666.7,165.9 686.5,159.3 687.3,182.3 684.8,207.0 670.0,205.4 669.2,215.3 655.2,213.6 653.5,216.1 641.2,215.3 642.0,185.6 652.7,182.3" fill="#0000cd"/>
<polygon points="666.7,208.7 684.8,208.7 685.6,218.6 675.7,220.2 666.7,220.2" fill="#0000cd"/>
<polygon points="686.5,210.3 701.3,207.0 702.9,218.6 696.3,220.2 696.3,228.5 704.6,230.1 710.0,218.6 710.0,240.0 704.6,240.0 696.3,230.1 687.3,220.2" fill="#0000cd"/>
<polygon points="666.7,221.0 674.9,221.0 676.6,230.1 666.7,231.7" fill="#0000cd"/>
<polygon points="693.0,162.6 702.9,160.1 703.7,170.8 694.7,172.5" fill="#0000cd"/>
<polygon points="598.3,230.0 604.9,230.0 604.9,234.9 598.3,234.9" fill="#0000cd"/>
<polygon points="633.8,235.8 639.5,235.8 646.9,242.4 635.4,243.2" fill="#0000cd"/>
<polygon points="681.5,238.2 688.1,238.2 688.1,245.6 681.5,245.6" fill="#0000cd"/>
<polygon points="651.9,254.7 660.9,254.7 660.1,262.1 653.5,265.4" fill="#0000cd"/>
<polygon points="678.2,257.2 710.0,257.2 710.0,267.1 679.0,267.1" fill="#0000cd"/>
<polygon points="694.7,239.9 710.0,239.9 710.0,257.2 694.7,257.2" fill="#0000cd"/>
<polygon points="653.5,275.3 661.7,275.3 665.0,281.9 671.6,286.8 670.8,290.1 660.1,289.3 659.3,282.7 653.5,282.7" fill="#0000cd"/>
<polygon points="641.2,296.7 649.4,296.7 649.4,304.9 641.2,304.9" fill="#0000cd"/>
<polygon points="530.8,272.8 537.4,272.8 539.1,281.1 534.9,284.3 530.8,284.3" fill="#0000cd"/>
<polygon points="539.9,293.4 547.3,293.4 547.3,300.8 539.9,300.8" fill="#0000cd"/>
<polygon points="530.0,302.5 534.1,302.5 534.1,310.7 530.0,310.7" fill="#0000cd"/>
<polygon points="553.1,316.5 560.5,315.6 561.3,319.8 553.1,320.2" fill="#0000cd"/>
<polygon points="562.9,323.9 571.2,323.9 571.2,331.3 562.9,331.3" fill="#0000cd"/>
<polygon points="576.1,332.9 593.4,332.9 594.2,343.6 604.1,344.5 604.1,351.0 612.3,346.9 628.8,345.3 625.5,337.0 626.3,323.0 633.8,323.0 634.6,328.8 645.3,327.2 648.6,323.9 660.1,328.8 661.7,337.0 670.0,337.0 670.0,327.2 679.0,325.5 680.7,318.9 698.0,318.9 698.8,323.9 688.1,335.4 688.1,342.0 698.0,343.6 698.0,350.2 710.0,345.3 710.0,370.0 582.7,370.0 579.4,360.1 586.0,353.5 586.0,345.3 576.9,342.0" fill="#0000cd"/>
<polygon points="531.8,273.1 539.2,273.1 540.0,284.6 532.6,284.6" fill="#0000cd"/>
<polygon points="524.3,283.8 532.6,283.8 532.6,291.2 524.3,291.2" fill="#0000cd"/>
<polygon points="540.0,292.8 548.2,292.8 548.2,301.1 540.0,301.1" fill="#0000cd"/>
<polygon points="523.5,301.9 534.2,301.9 534.2,310.1 523.5,310.1" fill="#0000cd"/>
<polygon points="553.2,315.9 561.4,315.9 561.4,320.0 553.2,320.0" fill="#0000cd"/>
<polygon points="563.0,324.1 571.3,324.1 571.3,331.5 563.0,331.5" fill="#0000cd"/>
<polygon points="576.2,333.2 594.3,333.2 595.2,343.9 603.4,344.7 604.2,348.8 611.6,347.2 624.8,345.5 625.6,324.1 633.9,323.3 634.7,329.0 650.0,324.1 650.0,390.0 587.7,390.0 588.6,368.6 578.7,360.3 578.7,355.4 585.3,352.1 578.7,343.9" fill="#0000cd"/>
<polygon points="641.3,296.9 648.7,296.9 648.7,305.2 641.3,305.2" fill="#0000cd"/>
<polygon points="696.6,220.0 718.0,220.0 717.2,229.9 714.7,243.1 713.1,252.9 714.7,266.1 690.0,266.9 690.0,248.0 694.9,239.8 703.2,238.1 702.4,229.9 696.6,228.2" fill="#0000cd"/>
<polygon points="710.6,285.1 719.6,284.2 722.9,292.5 724.6,300.7 718.0,299.0 716.3,292.5 711.4,289.2" fill="#0000cd"/>
<polygon points="690.0,318.8 698.2,318.8 696.6,327.0 690.0,332.0" fill="#0000cd"/>
<polygon points="769.0,220.0 775.6,220.0 775.6,224.1 769.0,224.1" fill="#0000cd"/>
<polygon points="775.6,224.9 788.8,224.1 788.0,231.5 775.6,232.4" fill="#0000cd"/>
<polygon points="781.4,239.8 792.1,238.9 792.9,247.2 783.9,249.6 781.4,246.3" fill="#0000cd"/>
<polygon points="788.8,260.3 797.0,256.2 812.7,253.8 813.5,262.8 811.0,269.4 805.3,284.2 798.7,285.1 797.9,277.6 778.9,278.5 778.1,271.1 788.8,269.4" fill="#0000cd"/>
<polygon points="736.9,293.3 744.3,293.3 744.3,299.0 753.4,299.0 754.2,309.8 757.5,312.2 757.5,320.5 762.5,325.4 762.5,332.0 751.8,333.6 750.9,325.4 744.3,325.4 742.7,318.8 746.8,313.9 738.6,313.0" fill="#0000cd"/>
<polygon points="762.5,295.8 777.3,294.9 779.8,300.7 788.8,299.9 790.5,294.1 795.4,294.1 796.2,302.3 805.3,302.3 805.3,287.5 816.8,289.2 817.6,302.3 820.1,312.2 815.2,318.8 810.2,313.9 805.3,309.8 798.7,312.2 797.9,333.6 788.8,335.3 783.9,327.0 774.0,325.4 769.0,318.8 764.1,317.2" fill="#0000cd"/>
<polygon points="818.5,304.0 826.7,300.7 852.2,299.9 853.0,305.6 850.6,318.8 844.8,320.5 844.0,327.0 834.9,328.7 833.3,341.9 826.7,345.2 825.9,356.7 816.8,356.7 815.2,345.2 816.0,327.0 825.0,325.4 824.2,312.2" fill="#0000cd"/>
<polygon points="854.7,320.5 862.9,317.2 866.2,325.4 870.0,325.4 870.0,338.6 864.6,335.3 862.9,345.2 870.0,348.5 870.0,360.0 848.1,360.0 844.8,345.2 854.7,335.3" fill="#0000cd"/>
<polygon points="736.9,334.5 745.2,334.5 745.2,343.5 749.3,345.2 749.3,360.0 739.4,360.0 739.4,345.2" fill="#0000cd"/>
<polygon points="721.3,345.2 729.2,345.2 729.2,360.0 721.3,360.0" fill="#0000cd"/>
<polygon points="755.9,327.0 767.4,327.0 767.4,348.5 762.5,351.7 762.5,360.0 755.9,360.0 755.9,348.5 760.8,345.2" fill="#0000cd"/>
<polygon points="784.7,325.4 790.5,325.4 790.5,335.3 784.7,335.3" fill="#0000cd"/>
<polygon points="790.5,336.9 797.0,336.9 797.9,345.2 790.5,345.2" fill="#0000cd"/>
<polygon points="778.9,346.8 792.1,346.8 792.9,360.0 775.6,360.0" fill="#0000cd"/>
<polygon points="690.0,351.7 699.9,350.1 709.8,351.7 709.8,360.0 690.0,360.0" fill="#0000cd"/>
<polygon points="881.8,231.5 891.6,229.0 892.5,234.8 883.4,237.2" fill="#0000cd"/>
<polygon points="922.9,231.5 926.2,230.6 929.5,241.3 925.4,242.2" fill="#0000cd"/>
<polygon points="927.9,250.4 933.6,250.4 933.6,256.2 927.9,256.2" fill="#0000cd"/>
<polygon points="944.3,263.6 951.7,262.8 952.6,269.3 945.2,270.2" fill="#0000cd"/>
<polygon points="956.7,228.2 964.9,224.9 973.2,221.6 984.7,223.2 991.3,218.3 992.9,234.8 994.6,244.6 1000.0,241.3 1000.0,307.2 968.2,307.2 958.3,285.8 953.4,262.8 958.3,254.5 955.0,239.7" fill="#0000cd"/>
<polygon points="885.9,280.9 892.5,274.3 905.6,275.9 910.6,278.4 920.5,275.9 925.4,271.0 935.3,269.3 941.9,271.0 951.7,269.3 960.0,285.8 968.2,307.2 935.3,307.2 918.8,294.0 905.6,297.3 897.4,292.4 882.6,294.0 880.9,287.5" fill="#0000cd"/>
<polygon points="820.0,303.9 839.8,299.0 851.3,300.6 852.9,313.8 851.3,320.4 844.7,322.0 838.1,330.3 836.5,340.2 828.2,346.7 826.6,355.0 820.0,355.0" fill="#0000cd"/>
<polygon points="869.4,323.7 882.6,320.4 880.9,310.5 885.9,303.9 905.6,303.9 912.2,307.2 918.8,312.2 920.5,320.4 928.7,317.1 935.3,320.4 937.7,327.0 932.0,331.9 927.0,328.6 927.9,322.0 894.1,328.6 874.3,330.3 867.8,328.6" fill="#0000cd"/>
<polygon points="839.8,340.2 844.7,333.6 852.9,330.3 857.9,336.9 864.5,340.2 869.4,355.0 841.4,355.0" fill="#0000cd"/>
<polygon points="876.0,355.0 877.6,346.7 882.6,340.2 892.5,345.1 897.4,336.9 899.0,330.3 935.3,333.6 935.3,355.0" fill="#0000cd"/>
<polygon points="1011.7,149.9 1018.3,148.2 1029.9,191.1 1024.9,194.3 1026.6,205.9 1013.4,203.4 1011.7,196.8 1006.0,195.2 1006.8,177.1 1011.7,172.9" fill="#0000cd"/>
<polygon points="943.4,196.0 949.2,195.2 952.5,209.2 945.9,214.1 940.1,205.9" fill="#0000cd"/>
<polygon points="956.6,195.2 965.6,192.7 972.2,212.5 961.5,214.9" fill="#0000cd"/>
<polygon points="881.6,229.8 891.5,228.1 893.2,233.9 883.3,237.2" fill="#0000cd"/>
<polygon points="922.8,231.4 926.9,230.6 929.4,240.5 925.3,241.3" fill="#0000cd"/>
<polygon points="926.9,249.5 934.3,249.5 934.3,256.9 926.9,256.9" fill="#0000cd"/>
<polygon points="955.8,228.9 965.6,222.3 978.8,221.5 985.4,219.0 992.0,219.0 992.8,243.8 1005.2,240.5 1011.7,238.8 1015.0,247.0 1010.1,252.0 1015.0,255.3 1005.2,261.9 995.3,270.1 988.7,268.5 985.4,280.0 957.4,280.0 959.0,265.2 956.6,252.0 965.6,255.3 973.9,245.4 968.9,237.2 962.3,237.2 957.4,242.1" fill="#0000cd"/>
<polygon points="945.1,263.5 952.5,263.5 952.5,270.1 945.1,270.1" fill="#0000cd"/>
<polygon points="891.5,275.0 901.4,273.4 902.2,280.0 891.5,280.0" fill="#0000cd"/>
<polygon points="911.3,275.0 924.5,270.1 937.6,268.5 944.2,271.7 944.2,280.0 911.3,280.0" fill="#0000cd"/>
<polygon points="985.4,280.0 988.7,268.5 1044.7,238.8 1044.7,280.0" fill="#0000cd"/>
<polygon points="744.3,162.1 755.9,157.2 758.3,160.5 767.4,163.8 774.8,161.3 776.5,167.9 782.2,172.0 788.8,173.1 787.2,176.1 778.9,176.9 772.3,180.2 767.4,178.6 762.5,178.6 755.9,176.9 750.9,177.8 746.0,180.2" fill="#0000cd"/>
<polygon points="759.2,184.3 769.0,181.9 778.9,185.2 792.1,192.6 796.2,197.5 796.2,204.1 797.9,213.2 787.2,213.2 786.3,202.5 784.7,195.9 775.6,195.9 774.8,189.3 767.4,192.6 760.8,190.9" fill="#0000cd"/>
<polygon points="769.0,215.6 777.3,215.6 777.3,223.9 769.0,223.9" fill="#0000cd"/>
<polygon points="774.0,225.5 782.2,223.9 788.8,235.4 792.1,243.6 788.8,249.4 782.2,249.4 780.6,242.0 784.7,237.0 778.9,232.1" fill="#0000cd"/>
<polygon points="692.5,159.6 702.4,158.8 703.2,171.2 693.3,171.2" fill="#0000cd"/>
<polygon points="595.9,353.5 603.3,353.5 603.3,360.1 595.9,360.1" fill="#e60000"/>
<polygon points="661.7,328.8 669.2,328.8 669.2,337.0 661.7,337.0" fill="#e60000"/>
<polygon points="596.0,353.8 603.4,353.8 603.4,360.3 596.0,360.3" fill="#e60000"/>
<polygon points="611.6,385.9 619.0,385.9 619.0,390.0 611.6,390.0" fill="#e60000"/>
<polygon points="595.3,333.3 628.2,336.6 631.5,344.8 611.7,346.5 603.5,344.0 595.3,344.0" fill="#e60000"/>
<polygon points="596.1,353.1 603.5,353.1 603.5,359.6 596.1,359.6" fill="#e60000"/>
<polygon points="610.1,386.8 618.3,386.0 620.0,394.2 628.2,389.3 636.5,390.9 637.3,397.5 633.2,402.5 623.3,404.1 624.9,412.3 620.0,415.6 620.0,422.2 628.2,414.0 635.6,414.0 636.5,423.9 639.7,425.5 639.7,438.7 611.7,439.5 610.1,428.8 601.9,427.2 588.7,425.5 588.7,418.9 600.2,418.9 600.2,404.1 610.1,402.5" fill="#e60000"/>
<polygon points="648.0,379.4 653.7,379.4 653.7,393.1 648.0,393.1" fill="#e60000"/>
<polygon points="654.6,372.8 660.0,374.5 660.0,381.1 654.6,379.4" fill="#e60000"/>
<polygon points="612.6,450.2 634.8,450.2 634.8,459.8 612.6,459.8" fill="#e60000"/>
<polygon points="779.8,301.5 788.8,301.5 788.8,308.1 779.8,308.1" fill="#e60000"/>
<polygon points="595.8,333.3 624.6,330.0 625.4,336.6 632.0,338.2 631.2,344.8 604.8,346.5 604.0,359.6 595.8,359.6 595.8,353.1 590.0,353.1 590.0,346.5 595.8,344.8" fill="#e60000"/>
<polygon points="661.6,330.0 669.9,330.0 669.9,336.9 661.6,336.9" fill="#e60000"/>
<polygon points="687.2,336.6 695.4,330.0 734.9,330.0 738.2,339.9 736.6,348.1 721.7,346.5 720.1,356.3 711.9,356.3 711.0,349.8 698.7,351.4 697.0,344.8 688.0,344.0" fill="#e60000"/>
<polygon points="746.5,333.3 759.6,332.5 760.4,343.2 753.0,346.5 756.3,369.5 736.6,367.9 736.6,362.1 747.3,360.5 748.1,349.8 746.5,343.2" fill="#e60000"/>
<polygon points="767.0,354.7 770.0,354.7 770.0,367.9 767.0,367.9" fill="#e60000"/>
<polygon points="688.8,369.5 696.2,369.5 696.2,376.1 688.8,376.1" fill="#e60000"/>
<polygon points="688.8,383.5 699.5,383.5 699.5,396.7 690.5,396.7 688.8,390.9" fill="#e60000"/>
<polygon points="648.5,381.1 653.4,379.4 655.1,374.5 660.8,375.3 660.8,382.7 654.2,384.3 653.4,392.6 648.5,392.6" fill="#e60000"/>
<polygon points="720.1,378.6 723.4,378.6 723.4,386.8 720.1,386.8" fill="#e60000"/>
<polygon points="599.9,404.1 610.6,402.5 610.6,386.8 618.8,386.8 619.6,394.2 628.7,388.5 636.9,390.1 637.8,398.3 624.6,404.1 623.8,414.0 636.1,414.0 636.9,424.7 640.2,425.5 640.2,438.7 610.6,439.5 609.8,428.8 590.0,428.0 590.0,418.1 599.1,418.1" fill="#e60000"/>
<polygon points="701.2,400.0 708.6,400.0 710.2,405.8 716.0,407.4 716.0,415.6 705.3,415.6 700.3,419.8 699.5,414.0 703.6,412.3" fill="#e60000"/>
<polygon points="733.3,416.5 740.7,416.5 740.7,428.8 733.3,428.8" fill="#e60000"/>
<polygon points="748.9,409.0 756.3,407.4 758.0,412.3 752.2,416.5 748.1,414.8" fill="#e60000"/>
<polygon points="714.3,444.5 723.4,443.6 723.4,451.9 714.3,452.7" fill="#e60000"/>
<polygon points="612.2,450.2 634.5,451.0 634.5,458.5 613.1,459.3" fill="#e60000"/>
<polygon points="698.7,456.0 706.1,456.0 705.3,470.0 697.0,470.0" fill="#e60000"/>
<polygon points="677.3,465.9 683.9,465.9 683.9,470.0 677.3,470.0" fill="#e60000"/>
<polygon points="721.7,463.4 730.0,463.4 730.0,470.0 721.7,470.0" fill="#e60000"/>
<polygon points="767.4,333.3 782.2,333.3 783.1,330.0 814.3,330.0 814.3,354.7 804.5,357.2 804.5,348.1 795.4,351.4 794.6,344.8 789.6,344.0 789.6,337.4 782.2,338.2 776.5,348.1 774.8,354.7 782.2,362.9 785.5,365.4 779.8,369.5 769.9,369.5 766.6,359.6 769.1,349.8" fill="#e60000"/>
<polygon points="817.6,358.0 825.9,358.0 827.5,351.4 835.8,350.6 836.6,343.2 845.6,336.6 852.2,336.6 852.2,343.2 845.6,348.1 842.3,362.9 835.8,369.5 829.2,367.9 822.6,364.6 817.6,366.2" fill="#e60000"/>
<polygon points="856.3,344.0 863.8,342.4 865.4,347.3 860.5,349.8 856.3,348.1" fill="#e60000"/>
<polygon points="860.5,334.9 865.4,334.9 865.4,339.9 860.5,339.9" fill="#e60000"/>
<polygon points="875.3,346.5 881.9,345.6 881.0,354.7 876.1,354.7" fill="#e60000"/>
<polygon points="875.3,330.0 898.3,330.0 901.6,336.6 896.7,339.9 888.5,336.6 875.3,334.9" fill="#e60000"/>
<polygon points="814.3,375.3 820.1,376.9 819.3,381.9 814.3,381.1" fill="#e60000"/>
<polygon points="792.9,381.1 798.7,381.9 797.9,387.6 792.9,387.6" fill="#e60000"/>
<polygon points="827.5,383.5 839.4,383.5 839.4,388.5 827.5,388.5" fill="#e60000"/>
<polygon points="851.4,386.0 858.8,383.5 862.9,391.8 851.4,391.8" fill="#e60000"/>
<polygon points="790.5,410.7 797.9,404.1 807.8,399.2 814.3,392.6 817.6,399.2 829.2,399.2 829.2,409.0 820.9,415.6 822.6,419.8 842.3,419.8 852.2,422.2 855.5,416.5 858.8,418.9 853.9,427.2 845.6,427.2 837.4,435.4 829.2,443.6 817.6,450.2 807.8,446.9 799.5,448.6 794.6,445.3 788.0,443.6 788.0,427.2 781.4,425.5 769.9,425.5 771.5,420.6 781.4,416.5 789.6,419.8" fill="#e60000"/>
<polygon points="864.6,422.2 873.6,418.1 878.6,420.6 893.4,419.8 894.2,425.5 885.2,427.2 868.7,428.0 864.6,427.2" fill="#e60000"/>
<polygon points="914.0,377.8 924.7,374.5 931.3,374.5 936.2,377.8 936.2,384.3 931.3,386.0 932.9,399.2 940.0,399.2 940.0,409.0 934.6,414.0 931.3,427.2 924.7,432.1 919.7,430.5 919.7,418.9 911.5,419.8 911.5,425.5 905.7,425.5 904.9,410.7 911.5,409.0 910.7,395.9 914.8,387.6" fill="#e60000"/>
<polygon points="922.2,363.8 931.3,362.9 933.7,369.5 924.7,370.3" fill="#e60000"/>
<polygon points="896.7,438.7 903.3,438.7 905.7,445.3 913.2,450.2 914.0,458.5 904.9,456.8 900.0,448.6" fill="#e60000"/>
<polygon points="872.0,460.1 885.2,460.1 890.1,466.7 903.3,465.0 909.0,470.0 872.0,470.0" fill="#e60000"/>
<polygon points="776.5,460.9 784.7,460.1 792.9,455.2 799.5,451.9 804.5,455.2 797.9,461.7 799.5,466.7 776.5,468.3" fill="#e60000"/>
<polygon points="958.3,238.1 968.2,235.6 972.3,239.7 968.2,247.9 961.6,252.9 957.5,247.9" fill="#e60000"/>
<polygon points="986.3,244.6 992.9,243.8 994.6,259.5 988.0,260.3" fill="#e60000"/>
<polygon points="992.9,215.0 1000.0,215.0 1000.0,241.3 994.6,243.8 992.1,219.9" fill="#e60000"/>
<polygon points="945.2,271.0 953.4,264.4 956.7,269.3 956.7,279.2 950.1,280.9 946.0,277.6" fill="#e60000"/>
<polygon points="978.1,272.6 983.0,269.3 988.0,277.6 983.0,282.5 977.3,280.9" fill="#e60000"/>
<polygon points="927.0,285.8 933.6,280.9 936.9,289.1 932.0,294.0 927.0,292.4" fill="#e60000"/>
<polygon points="905.6,297.3 918.8,295.7 920.5,302.3 925.4,307.2 928.7,317.1 920.5,320.4 918.8,312.2 912.2,307.2 905.6,303.9" fill="#e60000"/>
<polygon points="892.5,312.2 902.3,310.5 902.3,323.7 892.5,323.7 890.8,317.1" fill="#e60000"/>
<polygon points="882.6,294.0 897.4,292.4 897.4,303.9 885.9,304.8" fill="#e60000"/>
<polygon points="844.7,322.0 851.3,320.4 854.6,328.6 846.3,333.6 841.4,330.3" fill="#e60000"/>
<polygon points="857.9,340.2 864.5,341.8 866.1,350.0 857.9,350.0" fill="#e60000"/>
<polygon points="935.3,294.0 941.9,292.4 950.1,297.3 960.0,300.6 964.9,297.3 973.2,300.6 968.2,308.9 961.6,312.2 948.5,312.2 941.9,307.2 936.9,300.6" fill="#e60000"/>
<polygon points="968.2,312.2 974.8,303.9 978.1,297.3 984.7,294.0 992.9,297.3 994.6,307.2 991.3,317.1 984.7,327.0 978.1,320.4 971.5,318.8" fill="#e60000"/>
<polygon points="927.9,322.0 935.3,320.4 937.7,327.0 932.0,331.9 927.0,328.6" fill="#e60000"/>
<polygon points="948.5,345.1 953.4,341.8 956.7,350.0 951.7,355.0 948.5,355.0" fill="#e60000"/>
<polygon points="957.4,242.1 965.6,236.3 973.0,240.5 973.9,247.0 965.6,255.3 958.2,252.0" fill="#e60000"/>
<polygon points="985.4,244.6 992.8,243.8 995.3,258.6 988.7,260.2" fill="#e60000"/>
<polygon points="1015.0,247.0 1044.7,232.2 1044.7,245.4 1015.0,255.3" fill="#e60000"/>
<polygon points="891.5,313.2 901.4,309.9 903.1,319.8 899.8,328.0 891.5,326.3" fill="#e60000"/>
<polygon points="917.9,309.9 926.1,306.6 929.4,318.1 921.2,321.4" fill="#e60000"/>
<polygon points="927.8,323.1 936.0,319.8 937.6,328.0 929.4,331.3" fill="#e60000"/>
<polygon points="880.0,328.0 889.9,324.7 901.4,329.6 899.8,337.9 886.6,339.5 880.0,337.9" fill="#e60000"/>
<polygon points="904.7,300.0 917.9,300.0 917.9,308.2 904.7,309.9" fill="#e60000"/>
<polygon points="936.0,300.0 965.6,300.0 972.2,306.6 965.6,309.9 957.4,313.2 950.8,309.9 936.0,304.9" fill="#e60000"/>
<polygon points="968.9,309.9 978.8,303.3 995.3,300.0 993.6,309.9 988.7,319.8 985.4,327.2 978.8,321.4 972.2,318.1" fill="#e60000"/>
<polygon points="942.6,369.2 949.2,357.6 952.5,342.8 957.4,347.8 960.7,357.6 965.6,369.2 968.9,379.0 965.6,384.0 957.4,379.0 952.5,372.5 945.9,374.1 949.2,385.6 954.1,392.2 949.2,397.2 942.6,393.9 937.6,398.8 934.3,392.2 926.1,388.9 921.2,382.3 914.6,379.0 917.9,374.1 927.8,374.1 934.3,377.4 937.6,372.5" fill="#e60000"/>
<polygon points="927.8,362.6 934.3,364.2 931.1,369.2 922.8,367.5" fill="#e60000"/>
<polygon points="909.6,398.8 916.2,395.5 921.2,388.9 934.3,392.2 937.6,398.8 949.2,400.5 959.0,402.1 965.6,398.8 972.2,405.4 968.9,415.3 965.6,420.2 957.4,418.6 952.5,425.2 945.9,423.5 942.6,415.3 934.3,418.6 929.4,430.1 919.5,431.7 919.5,418.6 912.9,415.3 904.7,413.6 903.1,405.4" fill="#e60000"/>
<polygon points="965.6,388.9 972.2,388.9 973.9,397.2 967.3,397.2" fill="#e60000"/>
<polygon points="880.0,420.2 893.2,420.2 893.2,428.5 880.0,430.1" fill="#e60000"/>
<polygon points="944.2,426.8 950.8,428.5 957.4,431.7 964.0,430.1 965.6,436.7 959.0,440.0 945.9,440.0" fill="#e60000"/>
<polygon points="830.0,423.3 839.9,420.0 858.0,420.0 854.7,424.9 839.9,434.8 830.0,441.4" fill="#e60000"/>
<polygon points="865.4,421.6 879.4,420.0 894.2,420.0 893.4,424.9 879.4,426.6 866.2,428.2" fill="#e60000"/>
<polygon points="905.8,420.0 911.5,420.0 911.5,426.6 905.8,426.6" fill="#e60000"/>
<polygon points="919.8,420.0 930.5,420.0 930.5,429.9 919.8,431.5" fill="#e60000"/>
<polygon points="943.6,426.6 948.6,429.9 955.2,429.9 961.7,436.5 970.0,438.1 974.9,441.4 961.7,444.7 950.2,443.1 945.3,436.5" fill="#e60000"/>
<polygon points="896.7,438.1 904.1,438.1 907.4,444.7 914.0,449.6 914.8,457.1 907.4,457.9 902.5,451.3 897.5,446.3" fill="#e60000"/>
<polygon points="940.3,452.1 951.9,450.5 953.5,457.9 946.9,462.8 943.6,471.1 935.4,474.3 935.4,467.8 942.0,461.2" fill="#e60000"/>
<polygon points="863.8,474.3 870.3,469.4 871.2,461.2 882.7,460.3 884.3,467.8 892.6,464.5 899.2,467.8 904.1,464.5 910.7,469.4 912.3,476.0 918.9,479.3 927.2,482.6 925.5,497.4 918.9,505.6 909.0,515.5 902.5,518.8 895.9,528.7 892.6,525.4 887.6,518.8 880.2,513.9 886.0,507.3 879.4,497.4 886.0,489.2 881.1,482.6 872.8,479.3" fill="#e60000"/>
<polygon points="872.0,535.3 879.4,534.5 887.6,541.9 886.0,560.0 877.8,560.0 879.4,548.5 872.8,543.5" fill="#e60000"/>
<polygon points="775.4,463.2 784.5,459.9 789.4,455.8 797.6,454.1 802.6,450.0 805.9,456.6 797.6,459.9 796.0,466.5 775.4,468.1" fill="#e60000"/>
<polygon points="740.8,490.3 756.5,490.3 756.5,498.1 740.8,498.1" fill="#e60000"/>
<polygon points="740.0,525.8 747.4,525.8 749.9,530.7 763.1,530.7 770.5,532.3 771.3,538.1 779.5,538.9 781.2,547.2 763.1,550.5 761.4,555.4 746.6,555.4 746.6,547.2 749.9,542.2 740.0,538.9" fill="#e60000"/>
<polygon points="820.7,546.3 826.5,546.3 826.5,552.9 820.7,552.9" fill="#e60000"/>
<polygon points="863.5,475.5 871.7,469.8 871.7,461.5 881.6,459.9 883.3,464.8 894.8,466.5 904.7,464.0 911.3,471.4 911.3,478.0 920.0,479.6 920.0,499.4 909.6,514.2 903.0,519.2 893.2,529.0 888.2,520.8 880.0,514.2 884.9,506.0 891.5,499.4 880.0,496.1 884.9,487.9 893.2,486.2 888.2,479.6 873.4,481.3 863.5,479.6" fill="#e60000"/>
<polygon points="903.9,450.0 912.9,450.0 914.6,456.6 904.7,456.6" fill="#e60000"/>
<polygon points="873.4,535.6 880.0,534.0 888.2,542.2 884.9,552.1 884.9,565.3 888.2,576.8 888.2,586.7 868.5,586.7 866.8,576.8 875.0,576.8 876.7,565.3 878.3,552.1 871.7,543.9" fill="#e60000"/>
<polygon points="806.7,570.2 824.0,568.6 825.6,576.8 837.2,580.1 845.4,577.6 848.7,583.4 838.8,586.7 825.6,586.7 817.4,588.3 810.8,581.7" fill="#e60000"/>
<polygon points="748.2,578.5 755.6,576.8 758.1,590.0 749.9,590.0" fill="#e60000"/>
<polygon points="807.1,569.6 824.0,568.6 825.1,579.2 833.5,578.1 839.9,577.1 848.4,579.2 847.3,585.5 835.6,585.5 829.3,590.8 818.7,586.6 809.2,580.2" fill="#e60000"/>
<polygon points="819.8,546.4 826.1,546.4 826.1,552.7 819.8,552.7" fill="#e60000"/>
<polygon points="770.0,540.0 779.5,540.0 779.5,548.5 770.0,548.5" fill="#e60000"/>
<polygon points="873.8,540.0 888.6,540.0 887.5,552.7 885.4,565.4 888.6,578.1 890.7,582.4 880.1,582.4 875.9,585.5 866.4,585.5 865.3,576.0 873.8,573.9 874.8,569.6 880.1,561.2 878.0,550.6" fill="#e60000"/>
<polygon points="857.9,595.1 874.8,592.9 876.9,602.5 887.5,603.5 889.6,613.1 871.6,616.2 868.5,607.8 870.6,603.5 857.9,602.5" fill="#e60000"/>
<polygon points="916.1,658.6 928.8,655.4 937.3,675.5 937.3,696.7 926.7,709.4 921.4,700.9 919.3,675.5 910.8,667.1" fill="#e60000"/>
<polygon points="620.0,450.0 634.8,451.6 633.2,458.2 620.0,459.9" fill="#e60000"/>
<polygon points="676.8,465.6 684.2,466.5 683.4,474.7 681.8,481.3 683.4,497.8 676.0,499.4 675.2,507.6 674.3,515.9 666.1,517.5 666.1,527.4 669.4,532.3 671.1,542.2 667.8,552.1 667.8,562.0 664.5,565.3 669.4,575.2 671.1,583.4 662.8,590.0 655.4,590.0 652.9,575.2 654.6,565.3 659.5,562.0 658.7,548.8 657.1,537.3 646.3,542.2 644.7,548.8 639.8,547.2 641.4,542.2 647.2,535.6 647.2,531.5 657.1,531.5 659.5,522.5 658.7,515.9 657.1,506.0 647.2,509.3 647.2,502.7 641.4,501.9 641.4,492.0 651.3,492.8 657.9,497.8 664.5,501.1 667.8,494.5 661.2,489.5 658.7,479.6 676.8,479.6" fill="#e60000"/>
<polygon points="629.1,482.1 639.8,478.8 643.9,479.6 643.1,489.5 636.5,490.3" fill="#e60000"/>
<polygon points="698.2,454.9 706.5,455.8 705.6,464.0 704.8,474.7 695.8,474.7 695.8,464.8 699.0,464.0" fill="#e60000"/>
<polygon points="722.1,463.2 730.3,463.2 730.3,473.1 722.1,473.1" fill="#e60000"/>
<polygon points="713.9,450.0 723.8,450.0 723.8,452.5 713.9,452.5" fill="#e60000"/>
<polygon points="775.6,463.2 784.7,459.9 791.3,455.8 800.0,451.6 800.0,464.8 776.5,468.1" fill="#e60000"/>
<polygon points="740.2,491.2 756.7,490.3 756.7,497.8 741.0,498.6" fill="#e60000"/>
<polygon points="732.0,524.9 736.9,522.5 740.2,525.8 747.6,524.9 751.7,529.0 756.7,532.3 764.9,530.7 770.7,531.5 771.5,537.3 780.6,538.9 782.2,547.2 771.5,548.8 763.3,548.8 761.6,553.8 746.8,555.4 745.2,548.8 747.6,542.2 741.9,537.3 735.3,535.6" fill="#e60000"/>
<polygon points="620.0,553.8 626.6,555.4 628.2,565.3 636.5,571.9 644.7,573.5 652.9,578.5 655.4,590.0 631.5,590.0 629.9,580.1 620.0,573.5" fill="#e60000"/>
<polygon points="748.5,578.5 755.0,576.8 756.7,583.4 760.0,590.0 753.4,590.0" fill="#e60000"/>
<polygon points="592.7,509.8 601.7,511.4 605.0,517.2 610.0,521.3 614.9,532.8 619.9,534.5 621.5,544.3 616.6,547.6 618.2,554.2 626.5,555.9 628.1,562.5 624.8,567.4 633.0,572.3 641.3,572.3 650.0,575.6 650.0,587.2 634.7,587.2 629.7,578.9 621.5,575.6 616.6,564.1 605.0,562.5 603.4,552.6 605.0,546.0 589.4,547.6 588.6,537.8 601.7,536.1 603.4,532.8 606.7,526.2 600.1,519.6 592.7,516.3" fill="#e60000"/>
<polygon points="596.8,569.9 604.2,569.9 604.2,581.4 597.6,582.2" fill="#e60000"/>
<polygon points="641.3,493.3 650.0,493.3 650.0,508.1 642.9,501.5" fill="#e60000"/>
<polygon points="641.3,539.4 650.0,537.8 650.0,547.6 642.9,549.3" fill="#e60000"/>
<polygon points="541.6,583.0 550.7,577.3 554.0,588.0 547.4,593.8 542.5,588.8" fill="#e60000"/>
<polygon points="556.5,591.3 563.5,591.3 563.5,608.6 556.5,608.6" fill="#e60000"/>
<polygon points="544.9,603.6 556.5,603.6 556.5,610.2 544.9,610.2" fill="#e60000"/>
<polygon points="574.6,588.8 578.7,590.5 583.6,598.7 575.4,600.3" fill="#e60000"/>
<polygon points="493.1,608.6 500.5,608.6 502.9,612.7 510.3,611.9 512.8,618.5 507.1,621.7 501.3,616.8 493.1,617.6" fill="#e60000"/>
<polygon points="540.8,620.1 547.4,614.3 554.0,620.1 549.0,628.3 542.5,626.7" fill="#e60000"/>
<polygon points="550.7,623.4 559.8,618.5 568.8,621.7 570.5,626.7 577.9,625.0 578.7,630.0 550.7,630.0" fill="#e60000"/>
<polygon points="600.0,540.0 621.4,540.0 622.2,548.2 616.5,549.9 619.8,556.5 628.0,558.1 628.8,564.7 635.4,570.5 644.5,572.9 649.4,577.9 654.3,581.2 655.2,587.8 642.8,587.8 631.3,586.1 630.5,576.2 621.4,572.9 616.5,564.7 604.9,561.4 603.3,554.8 600.0,553.2" fill="#e60000"/>
<polygon points="640.3,541.6 649.4,540.0 652.7,543.3 649.4,548.2 641.2,548.2" fill="#e60000"/>
<polygon points="659.3,540.0 672.5,540.0 670.8,546.6 665.9,553.2 664.2,564.7 667.5,566.3 668.3,577.9 670.8,579.5 670.0,587.8 674.9,589.4 674.1,596.0 679.0,597.6 685.6,602.6 692.2,609.2 702.1,609.2 708.7,605.9 715.3,609.2 720.2,628.9 712.0,635.5 679.0,633.9 669.2,628.9 662.6,624.0 654.3,621.5 647.8,617.4 646.1,605.9 652.7,602.6 656.0,597.6 655.2,587.8 654.3,581.2 652.7,568.0 657.6,564.7 660.1,549.9" fill="#e60000"/>
<polygon points="745.7,540.0 780.0,540.0 780.0,548.2 764.7,549.9 758.1,554.8 746.6,554.8" fill="#e60000"/>
<polygon points="748.2,577.9 755.6,577.1 756.5,587.8 759.7,591.1 754.8,593.5 751.5,586.1" fill="#e60000"/>
<polygon points="478.0,684.3 508.1,683.3 498.7,708.7 492.1,706.9 484.6,703.1 480.8,691.8" fill="#e60000"/>
<polygon points="542.0,581.7 551.4,577.9 554.3,588.2 546.7,593.9" fill="#e60000"/>
<polygon points="556.2,591.1 562.7,590.1 563.7,607.1 559.9,618.4 557.1,616.5 558.0,607.1" fill="#e60000"/>
<polygon points="543.0,604.2 556.2,602.4 557.1,609.9 544.9,610.8" fill="#e60000"/>
<polygon points="541.1,618.4 550.5,614.6 554.3,624.0 546.7,629.7 542.0,625.0" fill="#e60000"/>
<polygon points="540.1,634.4 548.6,632.5 552.4,644.7 545.8,646.6 541.1,639.1" fill="#e60000"/>
<polygon points="493.1,609.0 500.6,608.0 505.3,612.7 512.8,614.6 509.1,621.2 499.7,618.4 494.0,616.5" fill="#e60000"/>
<polygon points="574.0,589.2 580.6,595.8 584.4,599.5 578.7,602.4 575.0,597.7" fill="#e60000"/>
<polygon points="597.6,570.4 604.2,569.4 603.2,580.7 598.5,580.7" fill="#e60000"/>
<polygon points="545.8,631.5 554.3,623.1 559.9,625.0 561.8,618.4 570.3,622.1 576.9,624.0 580.6,633.4 571.2,642.8 565.6,637.2 559.9,634.4 552.4,635.3" fill="#e60000"/>
<polygon points="623.8,424.7 640.2,424.7 640.2,431.3 623.8,431.3" fill="#cc0000"/>
<polygon points="610.6,428.8 616.3,428.8 616.3,438.7 610.6,438.7" fill="#cc0000"/>
<polygon points="784.7,437.0 796.2,437.0 796.2,445.3 784.7,445.3" fill="#800000"/>
<polygon points="817.6,435.4 827.5,435.4 827.5,443.6 817.6,443.6" fill="#a80000"/>
<polygon points="796.2,423.9 804.5,423.9 804.5,432.1 796.2,432.1" fill="#a80000"/>
<polygon points="918.9,484.2 927.2,482.6 925.5,494.1 918.9,492.5" fill="#a80000"/>
<polygon points="880.2,512.2 887.6,509.8 894.2,522.1 892.6,528.7 886.0,522.1" fill="#a80000"/>
<polygon points="746.6,532.3 770.5,532.3 771.3,538.1 779.5,538.9 781.2,547.2 746.6,548.8" fill="#cc0000"/>
<polygon points="880.0,510.9 888.2,512.6 893.2,527.4 886.6,522.5" fill="#a80000"/>
<polygon points="916.1,658.6 928.8,655.4 937.3,675.5 937.3,696.7 926.7,709.4 921.4,700.9 919.3,675.5 910.8,667.1" fill="#cc0000"/>
<polygon points="812.4,580.2 833.5,578.1 829.3,590.8 818.7,586.6" fill="#cc0000"/>
<polygon points="676.0,479.6 683.4,481.3 683.4,497.8 669.4,507.6 667.8,515.9 666.1,527.4 669.4,532.3 671.1,542.2 664.5,565.3 659.5,565.3 658.7,548.8 657.1,537.3 661.2,529.0 659.5,515.9 667.8,499.4" fill="#a80000"/>
<polygon points="745.2,529.0 771.5,534.0 780.6,538.9 782.2,547.2 763.3,548.8 761.6,553.8 746.8,555.4 745.2,548.8" fill="#cc0000"/>
<polygon points="660.1,540.0 669.2,540.0 667.5,549.9 663.4,561.4 657.6,572.9 656.0,587.8 659.3,594.3 669.2,605.9 685.6,612.5 698.8,617.4 718.6,628.9 713.6,632.2 698.8,624.0 682.3,619.0 665.9,612.5 656.0,597.6 652.7,581.2 654.3,568.0 657.6,559.8" fill="#a80000"/>
<polygon points="669.2,619.0 685.6,617.4 692.2,625.6 679.0,632.2 669.2,628.9" fill="#ff0000"/>
<polygon points="586.8,118.9 595.9,120.6 607.4,118.1 610.7,120.6 611.5,160.1 600.8,156.8 592.6,151.1 574.5,152.7 567.1,158.5 566.2,132.9 586.8,131.3" fill="#999999"/>
<polygon points="647.3,129.3 651.9,126.3 660.1,128.0 679.9,131.3 679.9,142.8 656.8,147.8" fill="#999999"/>
<polygon points="556.3,160.1 573.6,160.1 573.6,170.0 556.3,170.0" fill="#800000"/>
<polygon points="564.6,196.3 575.3,196.3 575.3,203.8 564.6,203.8" fill="#800000"/>
<polygon points="554.7,185.6 562.9,185.6 562.9,194.7 554.7,194.7" fill="#800000"/>
<polygon points="573.6,205.4 581.9,205.4 581.9,215.3 573.6,215.3" fill="#800000"/>
<polygon points="605.8,197.2 619.8,197.2 619.8,205.4 605.8,205.4" fill="#800000"/>
<polygon points="544.8,200.5 554.7,200.5 556.3,208.7 569.5,221.9 562.9,225.2 551.4,224.3 550.6,208.7" fill="#5a0000"/>
<polygon points="618.9,188.9 628.8,184.0 640.3,184.8 640.3,195.5 619.8,196.3" fill="#800000"/>
<polygon points="548.1,189.8 554.7,189.8 554.7,199.6 544.8,199.6" fill="#999999"/>
<polygon points="619.8,208.7 630.5,208.7 630.5,218.6 619.8,218.6" fill="#ff0000"/>
<polygon points="600.8,210.3 610.7,212.0 607.4,218.6 600.8,216.9" fill="#ff0000"/>
<polygon points="613.2,167.5 627.2,167.5 627.2,176.6 613.2,176.6" fill="#ff0000"/>
<polygon points="614.0,178.2 627.2,177.4 628.8,184.0 618.9,193.9 613.2,193.9" fill="#0000ff"/>
<polygon points="587.6,216.1 604.1,216.1 604.9,226.8 586.8,227.6" fill="#0000ff"/>
<polygon points="666.7,208.7 684.8,208.7 685.6,218.6 675.7,220.2 666.7,220.2" fill="#0000a0"/>
<polygon points="666.7,221.0 674.9,221.0 676.6,230.1 666.7,231.7" fill="#0000ff"/>
<polygon points="678.2,121.4 696.3,121.4 696.3,136.2 678.2,136.2" fill="#0000a0"/>
<polygon points="551.4,236.6 558.0,236.6 558.0,244.0 551.4,244.0" fill="#999999"/>
<polygon points="545.6,277.8 551.4,279.4 552.2,291.8 545.6,291.8" fill="#999999"/>
<polygon points="590.1,276.9 598.3,276.9 598.3,286.8 590.1,286.8" fill="#ff0000"/>
<polygon points="552.2,279.4 564.6,281.1 564.6,289.3 552.2,289.3" fill="#ff0000"/>
<polygon points="581.1,262.1 587.6,262.1 587.6,270.3 581.1,270.3" fill="#ff0000"/>
<polygon points="514.5,306.8 526.0,306.8 526.0,313.4 514.5,313.4" fill="#999999"/>
<polygon points="545.8,281.3 552.3,281.3 552.3,291.2 545.8,291.2" fill="#999999"/>
<polygon points="524.3,283.8 532.6,283.8 532.6,291.2 524.3,291.2" fill="#0000a0"/>
<polygon points="497.2,301.1 513.6,301.1 513.6,309.3 497.2,309.3" fill="#800000"/>
<polygon points="515.3,319.2 522.7,319.2 522.7,327.4 515.3,327.4" fill="#800000"/>
<polygon points="523.5,338.9 531.8,338.9 531.8,346.3 523.5,346.3" fill="#330000"/>
<polygon points="550.7,341.4 558.9,341.4 558.9,347.2 550.7,347.2" fill="#800000"/>
<polygon points="498.0,370.2 509.5,370.2 509.5,380.1 498.0,380.1" fill="#800000"/>
<polygon points="486.5,381.7 496.3,381.7 496.3,390.0 486.5,390.0" fill="#800000"/>
<polygon points="598.5,254.9 606.7,254.9 606.7,259.9 598.5,259.9" fill="#800000"/>
<polygon points="553.2,280.5 565.5,280.5 565.5,288.7 553.2,288.7" fill="#ff0000"/>
<polygon points="590.2,277.2 598.5,277.2 598.5,287.9 590.2,287.9" fill="#ff0000"/>
<polygon points="580.3,263.2 587.7,263.2 587.7,270.6 580.3,270.6" fill="#ff0000"/>
<polygon points="486.5,370.2 497.2,370.2 497.2,380.1 486.5,380.1" fill="#ff0000"/>
<polygon points="480.0,358.0 486.6,358.0 486.6,399.2 480.0,399.2" fill="#999999"/>
<polygon points="497.3,393.4 508.0,393.4 508.0,412.3 497.3,412.3" fill="#999999"/>
<polygon points="480.0,413.2 496.5,413.2 496.5,425.5 480.0,425.5" fill="#999999"/>
<polygon points="510.5,417.3 521.2,417.3 521.2,427.2 510.5,427.2" fill="#999999"/>
<polygon points="480.0,402.5 485.8,402.5 485.8,412.3 480.0,412.3" fill="#0000e6"/>
<polygon points="497.3,414.0 509.6,414.0 509.6,426.3 497.3,426.3" fill="#0000e6"/>
<polygon points="498.1,369.5 508.0,369.5 508.0,381.1 498.1,381.1" fill="#a80000"/>
<polygon points="486.6,381.9 496.5,381.9 496.5,390.1 486.6,390.1" fill="#800000"/>
<polygon points="520.3,385.2 530.2,385.2 530.2,395.1 520.3,395.1" fill="#a80000"/>
<polygon points="508.8,396.7 522.8,396.7 522.8,406.6 508.8,406.6" fill="#a80000"/>
<polygon points="509.6,407.4 521.2,407.4 521.2,415.6 509.6,415.6" fill="#800000"/>
<polygon points="523.6,339.1 531.9,339.1 531.9,346.5 523.6,346.5" fill="#5a0000"/>
<polygon points="550.8,340.7 558.2,340.7 558.2,346.5 550.8,346.5" fill="#800000"/>
<polygon points="505.5,338.2 512.9,338.2 512.9,346.5 505.5,346.5" fill="#800000"/>
<polygon points="532.7,360.5 539.3,360.5 539.3,369.5 532.7,369.5" fill="#a80000"/>
<polygon points="624.9,424.7 639.7,424.7 639.7,431.3 624.9,431.3" fill="#a80000"/>
<polygon points="694.9,276.0 703.2,276.0 703.2,284.2 694.9,284.2" fill="#a80000"/>
<polygon points="696.6,289.2 704.8,289.2 704.8,297.4 696.6,297.4" fill="#a80000"/>
<polygon points="693.3,299.0 704.8,299.0 704.8,309.8 693.3,309.8" fill="#ff0000"/>
<polygon points="755.9,226.6 767.4,226.6 767.4,238.1 755.9,238.1" fill="#ff0000"/>
<polygon points="755.9,249.6 765.8,249.6 765.8,261.2 755.9,261.2" fill="#ff0000"/>
<polygon points="844.8,276.0 861.3,269.4 861.3,285.9 844.8,289.2" fill="#cc0000"/>
<polygon points="693.3,247.2 713.1,247.2 713.1,266.1 693.3,266.1" fill="#0000a0"/>
<polygon points="828.3,400.8 836.6,401.6 831.6,409.0 828.3,407.4" fill="#999999"/>
<polygon points="841.5,430.5 848.9,427.2 844.0,434.6" fill="#999999"/>
<polygon points="760.0,460.1 765.8,460.1 765.8,466.7 760.0,466.7" fill="#999999"/>
<polygon points="844.7,284.2 861.2,269.3 861.2,287.5 846.3,290.8" fill="#cc0000"/>
<polygon points="874.3,262.8 885.9,256.2 885.9,266.1 874.3,266.1" fill="#cc0000"/>
<polygon points="900.7,247.9 910.6,247.9 910.6,261.1 900.7,261.1" fill="#cc0000"/>
<polygon points="917.2,259.5 941.9,256.2 943.5,266.1 918.8,269.3" fill="#cc0000"/>
<polygon points="844.7,280.9 852.9,275.9 852.9,287.5 846.3,289.1" fill="#a80000"/>
<polygon points="960.0,267.7 968.2,264.4 971.5,274.3 963.3,279.2" fill="#000080"/>
<polygon points="902.3,330.3 912.2,328.6 918.8,343.5 912.2,355.0 902.3,355.0" fill="#000080"/>
<polygon points="943.5,297.3 960.0,300.6 956.7,312.2 948.5,312.2" fill="#cc0000"/>
<polygon points="983.8,184.5 990.3,182.8 992.0,194.3 985.4,196.0" fill="#a80000"/>
<polygon points="995.3,189.4 1005.2,186.1 1006.8,215.8 998.6,217.4" fill="#cc0000"/>
<polygon points="1044.7,228.9 1051.3,225.6 1052.9,235.5 1046.3,238.8" fill="#a80000"/>
<polygon points="1051.3,237.2 1060.0,232.2 1060.0,245.4 1051.3,245.4" fill="#800000"/>
<polygon points="901.4,248.7 911.3,248.7 911.3,258.6 901.4,258.6" fill="#cc0000"/>
<polygon points="916.2,258.6 929.4,258.6 929.4,268.5 916.2,268.5" fill="#cc0000"/>
<polygon points="959.0,265.2 972.2,261.9 972.2,275.0 959.0,276.7" fill="#000080"/>
<polygon points="1056.6,119.4 1069.8,124.3 1068.2,139.2 1056.6,139.2" fill="#cc0000"/>
<polygon points="1095.0,124.3 1095.0,139.2 1092.0,135.9 1092.9,127.6" fill="#800000"/>
<polygon points="841.5,428.2 847.3,425.8 848.1,429.1 843.2,433.2" fill="#999999"/>
<polygon points="876.7,585.0 883.6,585.0 883.6,590.0 876.7,590.0" fill="#999999"/>
<polygon points="875.9,583.4 884.4,583.4 881.2,592.9 875.9,592.9" fill="#999999"/>
<polygon points="629.9,566.9 639.8,563.6 643.1,571.9 634.8,573.5" fill="#999999"/>
<polygon points="669.4,583.4 676.0,583.4 676.0,590.0 669.4,590.0" fill="#999999"/>
<polygon points="700.7,450.0 706.5,450.0 706.5,454.9 700.7,454.9" fill="#999999"/>
<polygon points="628.8,564.7 639.5,563.9 640.3,570.5 635.4,571.3" fill="#999999"/>
<polygon points="667.5,583.6 674.9,583.6 674.9,589.4 667.5,589.4" fill="#999999"/>
<polygon points="744.3,162.1 755.9,157.2 758.3,160.5 767.4,163.8 774.8,161.3 776.5,167.9 782.2,172.0 788.8,173.1 787.2,176.1 778.9,176.9 772.3,180.2 767.4,178.6 762.5,178.6 755.9,176.9 750.9,177.8 746.0,180.2" fill="#0000a0"/>
<polygon points="775.6,196.7 784.7,195.9 785.5,212.3 777.3,212.3 776.5,214.8 768.2,214.8 768.2,207.4 776.5,207.4" fill="#999999"/>
<polygon points="769.0,215.6 777.3,215.6 777.3,223.9 769.0,223.9" fill="#0000a0"/>
<polygon points="492.2,535.3 502.1,535.3 502.1,543.5 492.2,543.5" fill="#5a0000"/>
<polygon points="634.7,564.9 641.3,564.1 642.1,572.3 634.7,572.3" fill="#999999"/>
<polygon points="574.6,588.8 578.7,590.5 583.6,598.7 575.4,600.3" fill="#a80000"/>
<polygon points="641.3,493.3 650.0,493.3 650.0,508.1 642.9,501.5" fill="#a80000"/>
<polygon points="493.1,608.6 500.5,608.6 501.3,616.8 493.1,617.6" fill="#a80000"/>
<polygon points="606.7,532.8 614.9,532.8 616.6,547.6 608.3,546.0" fill="#a80000"/>
<polygon points="478.0,684.3 508.1,683.3 498.7,708.7 492.1,706.9 484.6,703.1 480.8,691.8" fill="#ff0000"/>
<polygon points="545.8,631.5 554.3,623.1 559.9,625.0 559.9,634.4 552.4,635.3" fill="#800000"/>
<polygon points="561.8,618.4 570.3,622.1 569.3,629.7 559.9,625.0" fill="#a80000"/>
<polygon points="565.6,629.7 576.9,624.0 580.6,633.4 571.2,642.8 565.6,637.2" fill="#cc0000"/>
<polygon points="493.1,609.0 500.6,608.0 501.5,616.5 494.0,616.5" fill="#a80000"/>
<polygon points="574.0,589.2 580.6,595.8 584.4,599.5 578.7,602.4 575.0,597.7" fill="#a80000"/>
<polygon points="934.7,377.5 941.8,376.2 944.4,381.4 937.9,384.0" fill="#0000cd"/>
<polygon points="927.5,386.6 934.0,386.0 934.7,391.1 928.8,391.1" fill="#0000cd"/>
<polygon points="934.0,393.1 941.8,391.8 943.1,400.8 947.0,402.1 945.7,404.7 935.3,403.4" fill="#0000cd"/>
<polygon points="954.7,382.7 962.5,385.3 966.4,394.4 962.5,402.1 957.3,400.8 957.3,394.4 952.1,391.8 948.3,395.7 945.7,394.4 950.8,386.6" fill="#0000cd"/>
<polygon points="912.0,408.6 917.8,408.0 919.1,416.4 913.3,417.7" fill="#0000cd"/>
<polygon points="935.3,415.1 941.8,413.8 943.1,422.8 936.6,422.8" fill="#0000cd"/>
<polygon points="957.3,347.8 962.5,350.4 966.4,362.0 962.5,365.9 958.6,359.4" fill="#0000cd"/>
<path d="M545.2 165.0L546.5 182.5L545.2 200.0L551.2 210.0L551.2 235.0L550.0 250.0L549.8 270.7L547.2 281.0L538.3 272.7L525.5 272.0L517.8 273.2L497.3 266.8L404.5 261.7L402.7 288.6L400.7 314.0L301.7 304.0L289.0 407.5L433.4 422.8L521.6 426.7L588.9 428.0L589.9 450.2L592.9 470.3L591.9 512.5L576.8 508.5L564.8 510.5L552.7 513.5L540.6 509.5L532.6 510.5L520.6 508.5L512.5 503.4L506.5 503.4L496.4 501.4L488.4 496.4L480.4 493.4L474.3 489.4L475.3 439.1L411.0 435.1L407.7 480.0L403.0 551.3L323.3 548.3L300.0 600.0L420.0 730.0L1095.0 730.0L1095.0 200.0L1040.0 200.0L1012.0 160.0L1012.0 75.0L1095.0 75.0L1095.0 40.0L539.0 40.0L539.0 100.0L690.0 100.0L690.0 140.0L790.0 140.0L790.0 178.0L640.0 178.0L640.0 163.0L545.0 163.0ZM940.0 215.0L930.0 175.0L975.0 160.0L985.0 200.0ZM855.0 720.0L855.0 606.0L950.0 606.0L950.0 720.0ZM476.0 720.0L476.0 640.0L535.0 640.0L535.0 720.0Z" fill="url(#mos)" fill-rule="evenodd"/>
<polygon points="404.5,261.7 497.3,266.8 497.3,291.1 514.0,292.4 514.0,300.1 496.1,300.1 496.1,318.0 475.6,318.0 475.6,326.9 479.4,328.2 476.9,335.9 453.9,335.9 453.9,343.6 475.6,344.8 475.6,357.6 485.8,358.9 485.8,393.4 507.6,393.4 507.6,416.4 521.6,416.4 521.6,426.7 433.4,422.8 288.9,407.5 301.7,303.9 400.7,314.1 402.7,288.6" fill="#999999" stroke="#999999" stroke-width="0.9"/>
<polygon points="411.0,435.1 475.3,439.1 474.3,489.4 480.4,493.4 488.4,496.4 496.4,501.4 506.5,503.4 506.5,522.5 494.4,522.5 494.4,533.6 480.4,533.6 480.4,544.6 490.4,544.6 489.4,554.7 476.4,556.7 476.0,571.3 479.0,586.4 480.0,592.0 466.7,593.0 466.7,602.4 474.2,602.4 474.2,620.5 443.8,620.6 434.8,612.6 430.8,598.5 426.8,586.5 412.7,574.4 390.6,566.4 380.6,553.3 403.0,551.3 407.7,480.0" fill="#999999" stroke="#999999" stroke-width="0.9"/>
<polygon points="464.8,635.3 480.0,635.3 480.0,646.6 505.3,646.6 505.3,661.7 507.2,662.6 507.2,682.4 480.8,682.4 480.0,661.7 464.8,654.0" fill="#999999" stroke="#999999" stroke-width="0.9"/>
<polygon points="402.7,288.6 441.1,290.6 439.8,316.7 400.7,314.1" fill="#0000e6"/>
<polygon points="441.1,307.8 456.4,308.5 455.1,325.7 439.8,324.4" fill="#0000a0"/>
<polygon points="456.4,308.5 475.6,309.5 475.6,326.9 455.1,325.7" fill="#e60000"/>
<polygon points="471.8,401.1 484.6,402.4 484.6,413.9 471.8,412.6" fill="#0000ff"/>
<polygon points="497.3,413.9 510.1,415.1 510.1,426.7 497.3,425.4" fill="#0000ff"/>
<polygon points="485.8,398.5 497.3,399.8 497.3,411.3 485.8,410.0" fill="#e60000"/>
<polygon points="453.9,335.9 465.4,336.4 465.4,344.3 453.9,343.6" fill="#cc0000"/>
<polygon points="465.4,336.4 475.6,337.2 475.6,344.8 465.4,344.3" fill="#800000"/>
<polygon points="323.3,548.3 380.6,553.3 377.5,575.4 358.5,585.5 344.4,574.4 330.3,558.4" fill="#0000cd"/>
<polygon points="358.5,585.5 377.5,575.4 414.7,611.6 404.7,616.6 400.6,624.7 394.6,633.7 374.5,620.6 364.5,608.6 360.5,598.5" fill="#0000a0"/>
<polygon points="380.6,553.3 390.6,566.4 412.7,574.4 426.8,586.5 430.8,598.5 434.8,613.6 426.8,615.0 414.7,611.6 377.5,575.4" fill="#000080"/>

<polygon points="687.0,601.0 690.0,599.3 695.0,599.0 699.5,601.0 700.5,603.5 697.0,605.5 691.0,606.0 687.5,604.5" fill="#ffffff"/>
<polygon points="954.5,340.5 949.0,343.5 944.0,341.0 941.0,337.5 942.0,336.3 946.0,339.2 953.5,337.0" fill="#ffffff"/>
<polygon points="969.0,380.5 962.0,378.5 956.0,374.5 956.5,373.5 962.5,376.8 969.0,378.0" fill="#ffffff"/>
<polygon points="962.0,352.0 956.0,350.0 951.0,346.0 951.8,345.2 957.0,348.5 962.0,350.0" fill="#ffffff"/>
<polygon points="987.0,406.5 976.0,409.0 966.0,411.5 965.0,413.8 976.0,413.0 987.0,412.8" fill="#ffffff"/>
<polygon points="990.0,417.5 985.0,420.5 979.0,424.5 973.0,429.5 969.5,435.5 972.0,438.5 978.0,436.5 985.0,432.0 990.5,427.5 992.0,422.0" fill="#ffffff"/>
<path d="M192.2 70.5L183.2 119.0L180.7 148.4L183.8 157.4L175.6 170.2L165.3 183.0L164.1 193.2M210.1 74.3L205.0 97.3L198.6 98.6L192.2 134.4L198.6 142.0L226.7 139.5L219.0 168.9L212.6 193.2M254.8 83.2L252.3 97.3L259.9 111.4L253.6 119.0L265.1 124.1L284.2 128.0L272.7 136.9L262.5 138.2L265.1 152.3L258.7 156.1L259.9 168.9L275.3 167.6L277.8 152.3L275.3 138.2M284.2 129.3L345.6 138.2L349.4 98.6M345.6 138.2L344.3 159.9L321.3 167.6L318.8 183.0L303.4 175.3L288.1 185.5L284.2 191.9M345.6 149.7L413.4 157.4L418.5 105.0M413.4 157.4L409.5 211.1M277.8 193.2L409.5 209.8L430.0 211.6M277.8 193.2L270.2 259.9M298.3 195.7L290.6 259.9M331.5 200.9L334.1 226.4L327.7 239.2L405.7 248.2L409.5 211.1M372.4 207.2L368.6 244.3M201.1 194.5L252.3 202.1L247.2 234.1L234.4 248.2L211.4 246.9L196.0 234.1L175.6 226.4L165.3 208.5M201.1 194.5L196.0 198.3L188.4 172.7L176.8 193.2L182.0 211.1L197.3 203.4M226.7 139.5L183.2 148.4M239.5 162.5L231.8 167.6L236.9 188.1L243.3 203.4L252.3 202.1L254.8 177.8L252.3 170.2L239.5 162.5L238.2 147.2L253.6 119.0M252.3 202.1L270.2 203.4L275.3 198.3L277.8 193.2M275.3 167.6L274.0 199.6M150.0 83.2L165.3 93.5L178.1 97.3L185.8 93.5M150.0 126.7L167.9 126.7L178.1 136.9L179.4 148.4M231.8 259.9L234.4 248.2M190.9 259.9L196.0 234.1M339.2 241.8L337.9 259.9M368.6 244.3L367.3 259.9M381.4 246.9L380.1 259.9M415.9 131.8L430.0 129.3M413.4 183.0L430.0 185.5M408.2 239.2L430.0 240.5M57.5 62.5L95.0 72.5L115.0 82.5M56.2 80.0L83.8 90.0L105.0 102.5M67.5 97.5L102.5 112.5M95.5 45.5L93.8 70.0L105.0 102.5L97.5 125.0M130.0 55.0L121.2 75.0L115.0 82.5L105.0 102.5M128.8 91.2L140.0 82.5L155.0 85.0L166.2 96.2L185.0 92.5M128.8 91.2L137.5 115.0L147.5 112.5L147.5 107.5L180.0 112.5M67.5 100.0L70.0 115.0L83.8 116.2L83.8 130.0M58.8 92.5L67.5 100.0M208.8 261.5L288.1 275.6M289.4 250.0L283.0 301.1L277.8 347.2M265.1 297.3L300.9 305.0M205.0 288.4L238.2 292.2M202.4 316.5L234.4 321.6M196.0 351.0L224.1 354.8L226.7 362.5L272.7 368.9M192.2 363.8L222.9 366.3M188.4 380.4L256.1 389.4M187.1 393.2L288.1 407.2M247.2 269.2L248.4 283.2L239.5 288.4L239.5 308.8L234.4 321.6L242.0 326.7L234.4 339.5L233.1 347.2L224.1 354.8M258.7 255.1L259.9 270.5L256.1 275.6L262.5 290.9L254.8 301.1L256.1 326.7L252.3 329.3L248.4 359.9M283.0 301.1L263.8 297.3L262.5 290.9M272.7 368.9L274.0 375.3L252.3 395.7L242.0 400.9M198.6 393.2L185.8 459.9M253.6 402.1L244.6 459.9M288.1 407.2L280.4 459.9M284.2 436.7L341.8 443.0L354.6 439.2M283.0 453.3L316.2 457.1L341.8 459.9M339.2 250.0L332.8 306.3M367.3 250.0L360.9 310.1M381.4 250.0L376.3 311.4M208.8 261.5L192.2 351.0L180.7 413.6M349.4 418.8L352.0 434.1L362.2 439.2L364.8 418.8M354.6 439.2L352.0 459.9M417.6 104.1L409.4 207.6L404.7 261.8M417.6 130.0L429.4 128.8L441.2 133.5L448.2 141.8L457.6 146.5L463.5 153.5L464.7 167.6L475.3 171.2L469.4 179.4L474.1 186.5L477.6 200.6L474.1 217.1L478.8 228.8L490.6 235.9L495.3 250.0L504.7 259.4L518.8 271.2L530.6 273.5L544.7 278.2M437.6 106.5L435.3 153.5M454.1 106.5L451.8 153.5M469.4 106.5L467.6 153.5M485.9 106.5L484.7 153.5M502.4 106.5L501.8 153.5M517.6 106.5L517.6 153.5M455.3 124.1L542.4 127.6M455.3 138.2L542.4 141.8M455.3 152.4L542.4 155.9M476.5 171.2L547.1 174.0M476.5 186.5L547.1 189.3M488.2 153.5L490.1 188.8M504.7 153.5L506.6 188.8M520.0 153.5L521.9 188.8M532.9 153.5L534.8 188.8M483.5 200.6L550.6 202.9M483.5 212.4L550.6 214.7M483.5 224.1L550.6 226.5M483.5 237.1L550.6 239.4M483.5 250.0L550.6 252.4M490.6 188.8L496.5 268.8M507.1 188.8L512.9 268.8M521.2 188.8L527.1 268.8M531.8 188.8L537.6 268.8M542.4 188.8L548.2 268.8M380.0 153.5L412.9 157.1M380.0 206.5L409.4 208.8M412.9 157.1L464.7 160.6M411.8 184.1L457.6 186.5M409.4 210.0L460.0 212.4M431.8 158.2L430.6 184.1M450.6 160.6L449.4 185.3M428.2 211.2L424.7 254.7M448.2 212.4L444.7 257.1M460.0 186.5L460.0 212.4M411.8 218.2L422.4 219.4L429.4 227.6L441.2 225.3M408.2 231.2L436.5 234.7L425.9 247.6L412.9 254.7L405.9 250.0M445.9 238.2L462.4 235.9L476.5 231.2M464.7 242.9L463.5 261.8M477.6 231.2L476.5 264.1M285.0 435.0L272.5 557.5M410.0 435.0L402.5 547.5M285.0 452.5L410.0 467.5M280.0 495.0L345.0 500.0L350.0 470.0L410.0 475.0M180.0 475.0L250.0 485.0L245.0 507.5L272.5 512.5M205.0 495.0L247.5 500.0M202.5 515.0L205.0 495.0M245.0 507.5L270.0 535.0L274.0 547.5M302.5 500.0L300.0 532.5L325.0 535.0L320.0 547.5M345.0 500.0L340.0 532.5L405.0 537.5M360.0 470.0L355.0 500.0M165.0 462.5L172.5 472.5L180.0 475.0M210.0 435.0L202.5 475.0" fill="none" stroke="#8a8a8a" stroke-width="0.6" stroke-opacity="0.8"/>
<path d="M300.9 324.1L339.2 326.7L339.2 336.9L362.2 344.6L367.3 339.5L380.1 339.5L382.7 313.9M346.9 310.1L348.2 326.7L362.2 325.4L364.8 334.4L362.2 344.6M298.3 349.7L346.9 354.8L349.4 362.5L357.1 362.5L362.2 344.6M346.9 354.8L349.4 377.8L334.1 377.8L332.8 403.4M293.2 377.8L323.9 383.0L313.6 393.2L321.3 388.1L322.6 403.4M290.6 393.2L321.3 397.0M349.4 377.8L362.2 393.2L369.9 383.0L376.3 384.2L375.0 372.7L395.5 372.7L394.2 362.5L385.2 362.5L385.2 352.3L375.0 352.3L369.9 362.5M380.1 339.5L430.0 343.3M385.2 352.3L430.0 354.8M395.5 372.7L430.0 375.3M394.2 393.2L430.0 395.7M354.6 400.9L357.1 413.6L369.9 413.6L368.6 400.9L385.2 398.3L392.9 403.4M332.8 403.4L354.6 400.9M369.9 362.5L368.6 339.5M421.8 436.1L415.8 551.5M432.6 436.7L426.6 551.5M443.4 437.3L437.4 551.5M454.2 437.9L448.2 551.5M465.0 438.5L459.0 551.5M410.3 446.0L475.0 450.0M409.6 456.5L475.0 460.5M408.9 467.0L475.0 471.0M408.2 477.5L475.0 481.5M407.5 488.0L475.0 492.0M406.8 498.5L475.0 502.5M406.1 509.0L475.0 513.0M405.4 519.5L475.0 523.5M404.7 530.0L475.0 534.0M404.0 540.5L475.0 544.5M438.1 335.8L486.0 337.8M437.7 346.6L486.0 348.6M437.3 357.4L486.0 359.4M436.9 368.2L486.0 370.2M436.5 379.0L486.0 381.0M436.1 389.8L486.0 391.8M435.7 400.6L486.0 402.6M435.3 411.4L486.0 413.4M448.0 326.0L444.0 423.0M457.5 326.0L453.5 423.0M467.0 326.0L463.0 423.0M476.5 326.0L472.5 423.0" fill="none" stroke="#777" stroke-width="0.6" stroke-opacity="0.75"/>
<path d="M87.0 52.0L89.0 55.0L88.0 58.0L91.0 60.0L90.0 64.0L93.0 66.0L92.0 70.0L94.0 73.0M91.0 52.0L94.0 55.0L93.0 59.0L96.0 62.0L95.0 66.0M85.0 72.0L88.0 76.0L86.0 80.0L83.0 84.0L80.0 88.0L78.0 91.0L81.0 90.0L85.0 86.0L88.0 82.0L90.0 77.0L92.0 72.0M92.0 78.0L94.0 82.0L93.0 86.0M89.0 60.0L87.0 64.0L90.0 68.0L88.0 71.0" fill="none" stroke="#666" stroke-width="0.7" stroke-opacity="0.85"/>
<path d="M107.4 243.3L152.6 250.9L146.9 281.0L131.8 301.7L126.2 324.3M152.6 250.9L209.1 260.3M88.5 316.8L113.0 324.3L145.0 324.3M113.0 324.3L143.2 380.8L165.8 429.8M145.0 324.3L154.5 354.5L150.7 388.4L143.2 411.0M154.5 354.5L171.4 356.3L177.1 343.2M152.6 250.9L156.3 279.1M50.9 394.0L101.7 405.3M101.7 405.3L96.1 429.8L90.4 459.9M75.3 426.0L96.1 429.8M96.1 354.5L124.3 388.4L145.0 414.7M94.2 369.5L101.7 405.3M96.1 429.8L165.8 441.1M67.8 235.8L94.2 239.6L96.1 256.5M15.1 217.0L60.3 228.3L65.9 235.8M28.3 267.8L41.4 260.3L45.2 281.0M22.6 294.2L41.4 305.5L52.7 294.2M37.7 354.5L56.5 350.7L75.3 358.2M56.5 362.0L60.3 384.6M35.8 409.1L56.5 411.0L75.3 426.0L81.0 444.9M56.5 411.0L50.9 394.0M58.4 215.1L56.5 230.1M37.7 218.8L35.8 241.4L28.3 249.0M87.5 142.5L82.5 156.2L107.5 192.5M25.0 210.0L62.5 196.2L107.5 192.5M60.0 196.2L55.0 220.0M33.8 216.2L37.5 200.0M117.5 138.8L125.0 160.0M140.0 140.0L142.5 157.5L150.0 168.8M160.0 142.5L150.0 168.8M100.0 136.2L107.5 160.0L115.0 160.0M15.0 230.0L67.5 240.0L96.2 235.5M37.5 217.5L35.0 232.5M18.8 220.0L25.0 232.5" fill="none" stroke="#9a9aaa" stroke-width="0.6" stroke-opacity="0.55"/>
</g>
<polygon points="57.5,51.0 62.0,52.5 70.0,55.0 80.0,57.5 86.0,55.0 90.0,51.0 93.0,46.0 95.5,45.5 130.0,55.0 192.5,71.0 255.0,82.5 274.0,85.5 349.0,97.5 418.0,105.0 486.5,109.5 539.0,111.0 573.7,110.5 573.7,102.0 578.7,102.0 581.0,117.5 586.0,118.7 605.0,120.0 610.0,119.5 620.0,122.5 627.5,127.5 635.0,131.0 647.5,128.7 660.0,131.0 673.7,132.5 660.0,141.0 645.0,155.0 630.0,167.5 640.0,165.0 652.5,161.0 656.0,164.0 660.0,169.0 670.0,166.0 682.5,160.0 692.5,152.5 700.0,145.5 707.3,144.8 699.9,151.4 695.8,159.7 703.0,158.8 711.4,162.0 723.0,167.9 731.0,165.4 742.7,162.0 756.0,158.0 758.4,161.3 767.4,164.6 774.8,162.0 775.7,167.9 782.3,172.8 788.0,173.2 787.2,175.3 779.0,176.0 772.4,179.4 767.4,177.8 762.5,177.8 756.0,176.0 751.0,177.0 746.0,179.4 739.4,181.0 734.5,184.4 729.5,191.0 723.0,200.8 719.7,207.4 714.7,214.0 709.8,220.6 713.5,221.8 718.5,216.0 723.5,209.0 728.0,201.5 733.5,192.5 736.0,187.5 737.2,190.0 734.0,195.8 729.5,203.3 725.0,210.8 720.5,217.3 717.2,222.3 718.8,228.8 717.2,237.0 715.5,245.3 714.7,253.6 715.5,261.8 717.2,270.0 719.0,280.0 723.0,289.0 729.0,294.0 735.0,294.0 741.0,288.0 745.0,280.0 747.7,270.0 745.2,258.5 741.0,248.6 738.6,238.7 739.4,228.8 742.7,219.0 741.9,214.0 746.0,209.0 751.0,204.0 753.4,200.8 754.5,206.0 756.0,200.0 757.5,195.9 760.8,192.6 760.8,187.7 764.0,184.4 769.0,182.7 772.4,183.5 779.0,186.0 785.6,189.3 792.0,193.4 795.4,197.5 795.4,204.0 797.0,212.4 795.4,219.0 792.0,224.0 788.8,228.8 788.0,235.4 792.0,237.9 796.3,232.0 800.4,225.5 805.3,223.0 810.3,227.0 813.0,231.0 816.2,242.6 818.7,252.5 816.2,260.7 812.0,265.7 808.8,275.5 805.5,285.4 804.7,287.0 813.0,288.7 817.9,290.4 823.7,292.0 834.4,287.9 842.6,282.0 850.8,276.4 860.7,270.6 869.0,264.0 877.2,257.4 885.4,249.2 887.0,242.6 883.0,236.0 882.0,232.7 887.0,229.4 893.7,227.8 903.6,226.0 911.8,227.0 920.0,223.7 928.3,219.5 933.2,214.6 932.4,208.0 928.3,201.4 931.5,195.2 939.7,183.7 948.0,173.8 1010.5,157.3 1013.8,149.0 1020.4,145.8 1022.0,139.2 1027.0,132.6 1024.5,119.4 1027.0,111.2 1028.7,98.0 1032.0,86.5 1036.9,84.0 1040.2,88.0 1050.0,81.2 1056.7,82.4 1060.8,86.5 1063.3,99.6 1069.9,112.8 1073.2,121.0 1079.7,122.7 1083.0,131.0 1088.0,131.8 1092.9,137.5 1086.3,144.0 1079.7,150.7 1073.2,159.0 1066.6,165.5 1060.0,172.0 1053.4,178.7 1046.8,185.3 1041.9,193.6 1038.6,201.8 1041.9,209.9 1038.6,218.0 1040.9,217.8 1044.7,221.6 1048.0,225.4 1049.4,230.1 1050.3,233.8 1051.3,236.2 1053.2,233.8 1056.9,232.2 1060.4,230.3 1061.8,227.6 1060.0,225.0 1056.0,223.4 1054.0,224.3 1056.4,226.4 1058.2,228.6 1057.4,230.4 1055.0,232.4 1054.6,236.8 1053.4,239.8 1050.3,240.3 1049.4,241.4 1046.6,244.2 1042.8,245.1 1040.0,246.5 1036.2,248.0 1031.5,250.8 1025.8,252.7 1020.2,254.5 1015.5,256.4 1010.8,259.3 1006.1,262.1 1002.3,265.8 998.5,269.6 994.8,273.4 991.9,279.0 991.0,282.8 990.8,284.0 994.0,290.6 995.0,298.8 994.0,307.0 991.6,315.3 987.5,323.5 985.0,328.5 981.0,322.0 976.0,318.6 971.0,315.3 967.7,312.0 970.7,318.5 974.4,323.4 979.4,330.8 983.0,333.3 984.3,344.4 981.9,353.0 979.4,359.2 976.9,369.0 974.6,380.4 972.8,379.5 972.0,369.0 969.5,359.2 967.0,353.0 962.0,349.3 959.6,344.4 956.7,335.7 956.7,327.0 959.6,318.5 957.0,317.2 953.5,327.0 953.5,335.7 954.7,344.4 958.4,350.6 962.0,356.7 964.6,364.0 965.8,371.5 968.3,380.2 970.7,385.0 972.3,386.0 977.2,392.3 982.0,400.5 988.7,410.4 992.9,418.6 993.7,426.9 988.7,431.8 983.2,434.8 975.0,441.4 973.3,448.0 965.0,451.3 956.8,457.9 951.9,464.5 948.6,472.7 943.7,474.4 935.4,477.7 928.8,484.3 926.4,490.8 923.9,499.0 917.3,507.3 909.0,515.5 900.8,522.0 895.9,528.7 892.6,535.3 891.0,543.5 887.7,551.8 886.0,560.0 885.4,565.4 888.6,578.0 892.8,588.7 901.3,603.5 909.8,616.2 916.0,624.7 918.2,633.2 926.7,648.0 933.0,660.7 936.2,673.4 937.3,688.2 935.2,701.0 928.8,709.4 922.5,708.4 917.2,707.3 914.0,701.0 905.5,694.6 897.0,686.0 892.8,679.8 887.5,677.6 886.5,671.3 880.0,665.0 873.8,658.6 869.5,650.0 866.4,643.8 865.3,633.2 867.4,624.7 863.2,616.2 854.7,609.9 846.2,601.4 837.8,595.0 831.4,591.9 825.0,595.0 818.7,601.4 812.4,605.6 806.0,605.6 799.6,599.3 791.2,593.0 782.7,589.8 780.0,589.4 764.7,591.0 758.0,594.4 748.3,596.0 742.0,596.0 741.8,588.5 740.2,588.5 739.6,596.5 738.4,596.8 728.5,597.7 718.6,598.5 712.0,601.0 707.0,604.0 711.0,606.0 714.0,609.0 712.0,614.0 716.0,622.0 719.4,629.8 712.0,633.9 708.7,629.0 702.0,625.7 695.5,629.0 689.0,632.3 679.0,633.0 669.2,629.0 662.6,624.0 654.4,621.5 647.8,617.4 644.5,621.5 633.0,619.0 621.4,617.4 609.9,619.0 600.0,621.5 590.0,626.0 587.8,621.0 586.2,621.0 585.0,627.0 580.6,633.4 573.0,641.0 561.8,646.6 552.4,652.3 543.0,658.0 535.4,663.6 529.8,673.0 527.0,684.3 527.9,695.6 529.8,706.9 531.7,717.2 526.0,719.0 518.5,714.4 509.0,710.6 499.7,708.7 492.0,706.9 484.6,703.0 480.8,691.8 478.0,686.0 477.0,676.7 471.4,669.0 465.8,659.8 458.2,650.4 452.6,635.3 448.9,630.7 440.8,620.6 434.8,613.6 426.8,614.6 414.7,610.6 404.7,616.6 400.6,624.7 394.6,632.7 384.6,626.7 374.5,620.6 364.5,608.6 360.5,598.5 356.4,586.5 344.4,574.4 330.3,558.4 323.3,548.3 287.0,549.3 287.0,559.4 260.0,556.4 220.0,540.0 146.7,504.6 152.7,499.5 96.4,493.5 95.4,480.5 92.4,468.4 86.4,460.4 78.4,456.4 74.3,447.3 64.3,442.3 58.3,434.3 44.2,428.2 35.2,422.2 37.2,412.0 35.2,402.0 30.1,392.0 26.0,382.7 22.0,370.6 24.0,358.6 20.0,346.5 18.0,334.5 20.0,324.4 14.0,320.4 12.0,314.4 6.0,302.0 4.0,290.0 8.0,274.0 4.0,264.0 3.0,252.0 10.0,240.0 15.0,230.0 16.0,220.0 17.5,205.0 18.7,192.5 25.0,180.0 32.5,167.5 37.5,155.0 43.7,142.5 48.7,127.5 53.7,112.5 55.0,105.0 59.0,92.0 57.5,80.0 55.0,62.5" fill="none" stroke="#888" stroke-width="0.5"/>
<polygon points="991.9,280.0 994.8,274.6 998.5,271.8 1003.2,270.8 1007.0,268.9 1012.7,267.0 1017.4,264.2 1021.1,260.4 1024.0,258.5 1025.8,259.7 1029.6,259.3 1027.7,261.6 1024.0,264.0 1019.3,266.8 1014.5,269.6 1008.9,273.4 1003.2,276.2 997.6,279.0 992.9,281.4" fill="none" stroke="#888" stroke-width="0.5"/>
<polygon points="680.0,136.0 684.0,131.5 690.0,127.5 695.0,124.5 696.0,125.5 691.0,129.5 686.0,134.0 681.0,137.0" fill="none" stroke="#888" stroke-width="0.5"/>
<polygon points="1049.5,243.8 1054.5,243.2 1055.0,245.6 1050.5,246.2" fill="none" stroke="#888" stroke-width="0.5"/>
<polygon points="1060.0,243.6 1065.0,243.2 1065.4,245.4 1061.0,245.6" fill="none" stroke="#888" stroke-width="0.5"/>
<polygon points="35.0,438.0 40.0,439.0 46.0,441.5 54.0,443.5 54.0,444.8 45.0,443.5 38.0,441.0" fill="none" stroke="#888" stroke-width="0.5"/>
<polygon points="70.0,461.5 72.0,462.0 74.5,466.5 73.0,467.5" fill="none" stroke="#888" stroke-width="0.5"/>
<polygon points="67.0,474.5 69.0,475.0 71.0,480.0 69.5,480.5" fill="none" stroke="#888" stroke-width="0.5"/>
<polygon points="48.0,462.0 50.5,462.5 50.5,464.0 48.5,463.6" fill="none" stroke="#888" stroke-width="0.5"/>
<polygon points="751.5,185.5 753.0,185.0 753.0,188.5 751.8,188.5" fill="none" stroke="#888" stroke-width="0.5"/>
<text class="t" x="258.6" y="25.3" font-size="27.1" font-weight="bold" fill="#000" textLength="580" lengthAdjust="spacingAndGlyphs">Presidential Election Results by County (1876)</text>
<rect x="6.0" y="741.0" width="57.3" height="29" fill="#0000ff"/>
<text class="t" x="74.9" y="763.9" font-size="20.6" fill="#111">Tilden 40%</text>
<rect x="6.0" y="780.0" width="57.3" height="29" fill="#0000e6"/>
<text class="t" x="74.9" y="802.9" font-size="20.6" fill="#111">Tilden 50%</text>
<rect x="6.0" y="818.5" width="57.3" height="29" fill="#0000cd"/>
<text class="t" x="74.9" y="841.4" font-size="20.6" fill="#111">Tilden 60%</text>
<rect x="188.2" y="741.0" width="57.3" height="29" fill="#0000a0"/>
<text class="t" x="258.4" y="763.9" font-size="20.6" fill="#111">Tilden 70%</text>
<rect x="188.2" y="780.0" width="57.3" height="29" fill="#000080"/>
<text class="t" x="258.4" y="802.9" font-size="20.6" fill="#111">Tilden 80%</text>
<rect x="188.2" y="818.5" width="57.3" height="29" fill="#00005c"/>
<text class="t" x="258.4" y="841.4" font-size="20.6" fill="#111">Tilden 90%</text>
<rect x="370.8" y="741.0" width="57.3" height="29" fill="#000033"/>
<text class="t" x="439.3" y="763.9" font-size="20.6" fill="#111">Tilden 100%</text>
<rect x="370.8" y="780.0" width="57.3" height="29" fill="#ff0000"/>
<text class="t" x="439.3" y="802.9" font-size="20.6" fill="#111">Hayes 40%</text>
<rect x="370.8" y="818.5" width="57.3" height="29" fill="#e60000"/>
<text class="t" x="439.3" y="841.4" font-size="20.6" fill="#111">Hayes 50%</text>
<rect x="565.1" y="741.0" width="57.3" height="29" fill="#cc0000"/>
<text class="t" x="631.9" y="763.9" font-size="20.6" fill="#111">Hayes 60%</text>
<rect x="565.1" y="780.0" width="57.3" height="29" fill="#a80000"/>
<text class="t" x="631.9" y="802.9" font-size="20.6" fill="#111">Hayes 70%</text>
<rect x="565.1" y="818.5" width="57.3" height="29" fill="#800000"/>
<text class="t" x="631.9" y="841.4" font-size="20.6" fill="#111">Hayes 80%</text>
<rect x="750.3" y="741.0" width="57.3" height="29" fill="#5a0000"/>
<text class="t" x="818.5" y="763.9" font-size="20.6" fill="#111">Hayes 90%</text>
<rect x="750.3" y="780.0" width="57.3" height="29" fill="#330000"/>
<text class="t" x="818.5" y="802.9" font-size="20.6" fill="#111">Hayes 100%</text>
<rect x="750.3" y="818.5" width="57.3" height="29" fill="url(#tie)"/>
<text class="t" x="818.5" y="841.4" font-size="20.6" fill="#111">Tie 50%</text>
<rect x="947.4" y="741.0" width="57.3" height="29" fill="#999999" stroke="#9a9a9a" stroke-width="0.8"/>
<text class="t" x="1015.5" y="763.9" font-size="20.6" fill="#111">No Vote</text>
<rect x="947.4" y="780.0" width="57.3" height="29" fill="#cccccc" stroke="#9a9a9a" stroke-width="0.8"/>
<text class="t" x="1015.5" y="802.9" font-size="20.6" fill="#111">Territory</text>
<rect x="12.9" y="686.6" width="381.7" height="6.4" fill="#fff" stroke="#000" stroke-width="1"/>
<rect x="12.9" y="686.6" width="19.1" height="6.4" fill="#000"/>
<rect x="51.1" y="686.6" width="19.1" height="6.4" fill="#000"/>
<rect x="89.2" y="686.6" width="76.3" height="6.4" fill="#000"/>
<rect x="241.9" y="686.6" width="76.3" height="6.4" fill="#000"/>
<text class="t" x="12.9" y="680.8" font-size="13.3" text-anchor="middle" fill="#111">0</text>
<text class="t" x="51.1" y="680.8" font-size="13.3" text-anchor="middle" fill="#111">100</text>
<text class="t" x="89.2" y="680.8" font-size="13.3" text-anchor="middle" fill="#111">200</text>
<text class="t" x="165.6" y="680.8" font-size="13.3" text-anchor="middle" fill="#111">400</text>
<text class="t" x="241.9" y="680.8" font-size="13.3" text-anchor="middle" fill="#111">600</text>
<text class="t" x="318.3" y="680.8" font-size="13.3" text-anchor="middle" fill="#111">800</text>
<text class="t" x="394.6" y="680.8" font-size="13.3" text-anchor="middle" fill="#111">1,000</text>
<text class="t" x="397.6" y="693.6" font-size="13.3" fill="#111">Miles</text>
<g transform="translate(34.3,618.0)">
<circle r="13.1" fill="none" stroke="#222" stroke-width="1.5"/>
<polygon points="0,0 0.00,-3.70 7.64,-7.64" fill="#fff"/>
<polygon points="0,0 3.70,-0.00 7.64,-7.64" fill="#1a1a1a" stroke="#222" stroke-width="0.3"/>
<polygon points="0,0 3.70,-0.00 7.64,7.64" fill="#fff"/>
<polygon points="0,0 0.00,3.70 7.64,7.64" fill="#1a1a1a" stroke="#222" stroke-width="0.3"/>
<polygon points="0,0 0.00,3.70 -7.64,7.64" fill="#fff"/>
<polygon points="0,0 -3.70,0.00 -7.64,7.64" fill="#1a1a1a" stroke="#222" stroke-width="0.3"/>
<polygon points="0,0 -3.70,0.00 -7.64,-7.64" fill="#fff"/>
<polygon points="0,0 -0.00,-3.70 -7.64,-7.64" fill="#1a1a1a" stroke="#222" stroke-width="0.3"/>
<polygon points="0,0 -3.11,-3.11 0.00,-15.60" fill="#1a1a1a"/>
<polygon points="0,0 3.11,-3.11 0.00,-15.60" fill="#fff" stroke="#222" stroke-width="0.3"/>
<polygon points="0,0 3.11,-3.11 15.60,-0.00" fill="#1a1a1a"/>
<polygon points="0,0 3.11,3.11 15.60,-0.00" fill="#fff" stroke="#222" stroke-width="0.3"/>
<polygon points="0,0 3.11,3.11 0.00,15.60" fill="#1a1a1a"/>
<polygon points="0,0 -3.11,3.11 0.00,15.60" fill="#fff" stroke="#222" stroke-width="0.3"/>
<polygon points="0,0 -3.11,3.11 -15.60,0.00" fill="#1a1a1a"/>
<polygon points="0,0 -3.11,-3.11 -15.60,0.00" fill="#fff" stroke="#222" stroke-width="0.3"/>
</g>
<text x="34.3" y="599.9" font-family="'Liberation Serif',serif" font-size="7.8" font-weight="bold" text-anchor="middle" fill="#333">N</text>
<text x="34.3" y="641.8" font-family="'Liberation Serif',serif" font-size="7.8" font-weight="bold" text-anchor="middle" fill="#333">S</text>
<text x="13.0" y="620.4" font-family="'Liberation Serif',serif" font-size="7.8" font-weight="bold" text-anchor="middle" fill="#333">W</text>
<text x="54.2" y="621.0" font-family="'Liberation Serif',serif" font-size="7.8" font-weight="bold" text-anchor="middle" fill="#333">E</text>
</svg></body></html>
